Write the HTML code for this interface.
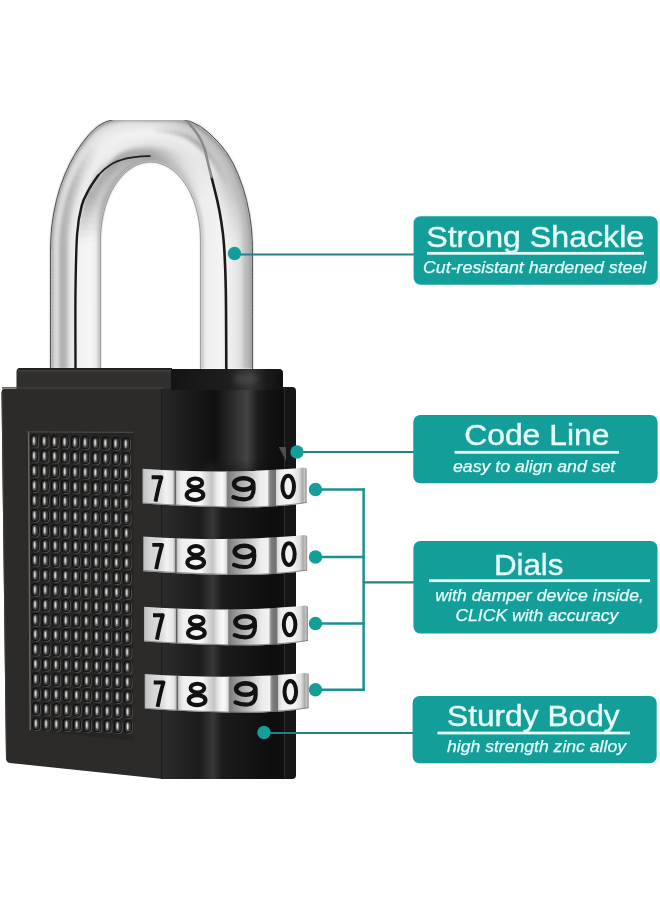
<!DOCTYPE html><html><head><meta charset="utf-8"><style>html,body{margin:0;padding:0;background:#fff;width:660px;height:900px;overflow:hidden}svg{display:block}</style></head><body>
<svg width="660" height="900" viewBox="0 0 660 900">
<defs>
<clipPath id="topclip"><rect x="0" y="120" width="660" height="780"/></clipPath>
<filter id="bl1" x="-20%" y="-20%" width="140%" height="140%"><feGaussianBlur stdDeviation="1"/></filter>
<filter id="bl2" x="-50%" y="-50%" width="200%" height="200%"><feGaussianBlur stdDeviation="2.5"/></filter>
<filter id="bl05"><feGaussianBlur stdDeviation="0.5"/></filter><filter id="bl08" x="-5%" y="-5%" width="110%" height="110%"><feGaussianBlur stdDeviation="0.9"/></filter>
<linearGradient id="cyl" gradientUnits="userSpaceOnUse" x1="161" x2="284" y1="0" y2="0"><stop offset="0.000" stop-color="#1a1a1a"/><stop offset="0.016" stop-color="#262626"/><stop offset="0.089" stop-color="#232323"/><stop offset="0.236" stop-color="#1a1a1a"/><stop offset="0.439" stop-color="#101010"/><stop offset="0.577" stop-color="#2a2a2a"/><stop offset="0.699" stop-color="#444446"/><stop offset="0.789" stop-color="#1c1c1c"/><stop offset="0.886" stop-color="#111"/><stop offset="1.000" stop-color="#0e0e0e"/></linearGradient>
<linearGradient id="cyl2" gradientUnits="userSpaceOnUse" x1="161" x2="284" y1="0" y2="0"><stop offset="0.000" stop-color="#1a1a1a"/><stop offset="0.016" stop-color="#2c2c2c"/><stop offset="0.187" stop-color="#212121"/><stop offset="0.317" stop-color="#1c1c1c"/><stop offset="0.423" stop-color="#383838"/><stop offset="0.496" stop-color="#1b1b1b"/><stop offset="0.724" stop-color="#141414"/><stop offset="0.886" stop-color="#0e0e0e"/><stop offset="1.000" stop-color="#101010"/></linearGradient>
<linearGradient id="capg" gradientUnits="userSpaceOnUse" x1="171" x2="284" y1="0" y2="0"><stop offset="0" stop-color="#141414"/><stop offset="0.5" stop-color="#1e1e1e"/><stop offset="0.7" stop-color="#363636"/><stop offset="0.85" stop-color="#1a1a1a"/><stop offset="1" stop-color="#101010"/></linearGradient>
<linearGradient id="s1" gradientUnits="userSpaceOnUse" x1="142" x2="175.5" y1="0" y2="0"><stop offset="0.000" stop-color="#9a9a9a"/><stop offset="0.060" stop-color="#c4c4c4"/><stop offset="0.239" stop-color="#d4d4d4"/><stop offset="0.537" stop-color="#dcdcdc"/><stop offset="0.716" stop-color="#f2f2f2"/><stop offset="0.896" stop-color="#e4e4e4"/><stop offset="0.970" stop-color="#b0b0b0"/><stop offset="1.000" stop-color="#555"/></linearGradient>
<linearGradient id="s2" gradientUnits="userSpaceOnUse" x1="175.5" x2="227" y1="0" y2="0"><stop offset="0.000" stop-color="#9a9a9a"/><stop offset="0.029" stop-color="#d0d0d0"/><stop offset="0.107" stop-color="#eeeeee"/><stop offset="0.476" stop-color="#f8f8f8"/><stop offset="0.612" stop-color="#d8d8d8"/><stop offset="0.709" stop-color="#c4c4c4"/><stop offset="0.806" stop-color="#ececec"/><stop offset="0.903" stop-color="#fafafa"/><stop offset="1.000" stop-color="#d4d4d4"/></linearGradient>
<linearGradient id="s3" gradientUnits="userSpaceOnUse" x1="227" x2="276.5" y1="0" y2="0"><stop offset="0.000" stop-color="#787878"/><stop offset="0.101" stop-color="#8e8e8e"/><stop offset="0.263" stop-color="#a8a8a8"/><stop offset="0.465" stop-color="#c8c8c8"/><stop offset="0.667" stop-color="#ececec"/><stop offset="0.818" stop-color="#f2f2f2"/><stop offset="0.848" stop-color="#9a9a9a"/><stop offset="0.889" stop-color="#7a7a7a"/><stop offset="1.000" stop-color="#6e6e6e"/></linearGradient>
<linearGradient id="s4" gradientUnits="userSpaceOnUse" x1="276.5" x2="307" y1="0" y2="0"><stop offset="0.000" stop-color="#d8d8d8"/><stop offset="0.115" stop-color="#eeeeee"/><stop offset="0.508" stop-color="#f4f4f4"/><stop offset="0.738" stop-color="#dedede"/><stop offset="0.852" stop-color="#aaaaaa"/><stop offset="0.918" stop-color="#c4c4c4"/><stop offset="1.000" stop-color="#808080"/></linearGradient>
<radialGradient id="bump" cx="0.4" cy="0.45" r="0.55" fx="0.38" fy="0.42"><stop offset="0" stop-color="#e8e8e8"/><stop offset="0.18" stop-color="#9a9a9a"/><stop offset="0.45" stop-color="#2a2a2a"/><stop offset="1" stop-color="#121212"/></radialGradient>
<linearGradient id="legL" gradientUnits="userSpaceOnUse" x1="50" x2="101" y1="0" y2="0"><stop offset="0" stop-color="#707070"/><stop offset="0.04" stop-color="#d8d8d8"/><stop offset="0.16" stop-color="#e4e4e4"/><stop offset="0.24" stop-color="#a8a8a8"/><stop offset="0.32" stop-color="#c8c8c8"/><stop offset="0.44" stop-color="#e8e8e8"/><stop offset="0.5" stop-color="#f0f0f0"/><stop offset="0.7" stop-color="#f6f6f6"/><stop offset="0.92" stop-color="#ebebeb"/><stop offset="1" stop-color="#9a9a9a"/></linearGradient>
<linearGradient id="legR" gradientUnits="userSpaceOnUse" x1="200" x2="253" y1="0" y2="0"><stop offset="0" stop-color="#a0a0a0"/><stop offset="0.05" stop-color="#e6e6e6"/><stop offset="0.45" stop-color="#f6f6f6"/><stop offset="0.55" stop-color="#f2f2f2"/><stop offset="0.75" stop-color="#f0f0f0"/><stop offset="0.88" stop-color="#c8c8c8"/><stop offset="0.97" stop-color="#b0b0b0"/><stop offset="1" stop-color="#777"/></linearGradient>
</defs>
<g clip-path="url(#topclip)">
<g filter="url(#bl08)"><path d="M50.5 369.0 50.5 246.3 53.4 245.8 53.4 369.0Z" fill="#969696"/><path d="M52.6 369.0 52.6 246.0 55.5 245.5 55.5 369.0Z" fill="#d1d1d1"/><path d="M54.7 369.0 54.7 245.6 57.6 245.1 57.5 369.0Z" fill="#d8d8d8"/><path d="M56.8 369.0 56.8 245.3 59.7 244.8 59.6 369.0Z" fill="#dadada"/><path d="M58.8 369.0 58.9 244.9 61.7 244.5 61.7 369.0Z" fill="#bababa"/><path d="M60.9 369.0 60.9 244.6 63.8 244.1 63.8 369.0Z" fill="#b1b1b1"/><path d="M63.0 369.0 63.0 244.2 65.9 243.8 65.9 369.0Z" fill="#b3b3b3"/><path d="M65.1 369.0 65.1 243.9 68.0 243.4 68.0 369.0Z" fill="#bbbbbb"/><path d="M67.2 369.0 67.2 243.6 70.1 243.1 70.0 369.0Z" fill="#d3d3d3"/><path d="M69.2 369.0 69.3 243.2 72.2 242.7 72.1 369.0Z" fill="#e4e4e4"/><path d="M71.3 369.0 71.4 242.9 74.2 242.4 74.2 369.0Z" fill="#e8e8e8"/><path d="M73.4 369.0 73.4 242.5 76.3 242.0 76.3 369.0Z" fill="#ececec"/><path d="M75.5 369.0 75.5 242.2 78.4 241.7 78.4 369.0Z" fill="#efefef"/><path d="M77.6 369.0 77.6 241.8 80.5 241.4 80.5 369.0Z" fill="#f2f2f2"/><path d="M79.7 369.0 79.7 241.5 82.6 241.0 82.5 369.0Z" fill="#f3f3f3"/><path d="M81.8 369.0 81.8 241.1 84.7 240.7 84.6 369.0Z" fill="#f3f3f3"/><path d="M83.8 369.0 83.9 240.8 86.7 240.3 86.7 369.0Z" fill="#f4f4f4"/><path d="M85.9 369.0 85.9 240.5 88.8 240.0 88.8 369.0Z" fill="#f5f5f5"/><path d="M88.0 369.0 88.0 240.1 90.9 239.6 90.9 369.0Z" fill="#f6f6f6"/><path d="M90.1 369.0 90.1 239.8 93.0 239.3 93.0 369.0Z" fill="#f5f5f5"/><path d="M92.2 369.0 92.2 239.4 95.1 238.9 95.0 369.0Z" fill="#f2f2f2"/><path d="M94.2 369.0 94.3 239.1 97.2 238.6 97.1 369.0Z" fill="#efefef"/><path d="M96.3 369.0 96.4 238.7 99.2 238.3 99.2 369.0Z" fill="#e3e3e3"/><path d="M98.4 369.0 98.4 238.4 100.5 238.0 100.5 369.0Z" fill="#b0b0b0"/><path d="M50.5 250.0 50.9 236.7 53.8 236.5 53.4 249.4Z" fill="#959595"/><path d="M52.6 249.6 53.0 236.5 55.9 236.3 55.5 249.0Z" fill="#d1d1d1"/><path d="M54.7 249.2 55.1 236.4 57.9 236.2 57.5 248.6Z" fill="#d8d8d8"/><path d="M56.8 248.8 57.1 236.2 60.0 236.0 59.6 248.2Z" fill="#dadada"/><path d="M58.8 248.3 59.2 236.1 62.1 235.9 61.7 247.8Z" fill="#bbbbbb"/><path d="M60.9 247.9 61.3 235.9 64.2 235.7 63.8 247.3Z" fill="#b2b2b2"/><path d="M63.0 247.5 63.4 235.8 66.2 235.5 65.9 246.9Z" fill="#b4b4b4"/><path d="M65.1 247.1 65.4 235.6 68.3 235.4 68.0 246.5Z" fill="#bcbcbc"/><path d="M67.2 246.7 67.5 235.4 70.4 235.2 70.0 246.1Z" fill="#d3d3d3"/><path d="M69.2 246.2 69.6 235.3 72.5 235.1 72.1 245.7Z" fill="#e3e3e3"/><path d="M71.3 245.8 71.7 235.1 74.5 234.9 74.2 245.3Z" fill="#e8e8e8"/><path d="M73.4 245.4 73.7 235.0 76.6 234.8 76.3 244.8Z" fill="#ebebeb"/><path d="M75.5 245.0 75.8 234.8 78.7 234.6 78.4 244.4Z" fill="#efefef"/><path d="M77.6 244.6 77.9 234.7 80.8 234.5 80.5 244.0Z" fill="#eeeeee"/><path d="M79.7 244.2 80.0 234.5 82.8 234.3 82.5 243.6Z" fill="#eeeeee"/><path d="M81.8 243.8 82.0 234.4 84.9 234.1 84.6 243.2Z" fill="#efefef"/><path d="M83.8 243.3 84.1 234.2 87.0 234.0 86.7 242.8Z" fill="#f0f0f0"/><path d="M85.9 242.9 86.2 234.0 89.1 233.8 88.8 242.3Z" fill="#f1f1f1"/><path d="M88.0 242.5 88.3 233.9 91.1 233.7 90.9 241.9Z" fill="#f2f2f2"/><path d="M90.1 242.1 90.3 233.7 93.2 233.5 93.0 241.5Z" fill="#f2f2f2"/><path d="M92.2 241.7 92.4 233.6 95.3 233.4 95.0 241.1Z" fill="#efefef"/><path d="M94.2 241.2 94.5 233.4 97.4 233.2 97.1 240.7Z" fill="#ebebeb"/><path d="M96.3 240.8 96.6 233.3 99.4 233.0 99.2 240.3Z" fill="#dfdfdf"/><path d="M98.4 240.4 98.6 233.1 100.7 232.9 100.5 240.0Z" fill="#afafaf"/><path d="M50.7 240.4 51.7 227.2 54.6 227.2 53.6 240.1Z" fill="#949494"/><path d="M52.8 240.2 53.8 227.2 56.6 227.2 55.7 239.8Z" fill="#d1d1d1"/><path d="M54.9 239.9 55.8 227.2 58.7 227.3 57.8 239.6Z" fill="#d8d8d8"/><path d="M57.0 239.7 57.9 227.2 60.7 227.3 59.8 239.4Z" fill="#dadada"/><path d="M59.0 239.5 60.0 227.3 62.8 227.3 61.9 239.2Z" fill="#bdbdbd"/><path d="M61.1 239.2 62.0 227.3 64.9 227.3 64.0 238.9Z" fill="#b3b3b3"/><path d="M63.2 239.0 64.1 227.3 66.9 227.4 66.1 238.7Z" fill="#b5b5b5"/><path d="M65.3 238.8 66.1 227.4 69.0 227.4 68.1 238.5Z" fill="#bebebe"/><path d="M67.3 238.6 68.2 227.4 71.0 227.4 70.2 238.2Z" fill="#d3d3d3"/><path d="M69.4 238.3 70.2 227.4 73.1 227.5 72.3 238.0Z" fill="#e3e3e3"/><path d="M71.5 238.1 72.3 227.5 75.1 227.5 74.4 237.8Z" fill="#e8e8e8"/><path d="M73.6 237.9 74.4 227.5 77.2 227.5 76.5 237.6Z" fill="#ebebeb"/><path d="M75.7 237.6 76.4 227.5 79.3 227.6 78.5 237.3Z" fill="#eeeeee"/><path d="M77.7 237.4 78.5 227.5 81.3 227.6 80.6 237.1Z" fill="#e7e7e7"/><path d="M79.8 237.2 80.5 227.6 83.4 227.6 82.7 236.9Z" fill="#e4e4e4"/><path d="M81.9 237.0 82.6 227.6 85.4 227.6 84.8 236.6Z" fill="#e5e5e5"/><path d="M84.0 236.7 84.6 227.6 87.5 227.7 86.9 236.4Z" fill="#e7e7e7"/><path d="M86.1 236.5 86.7 227.7 89.6 227.7 88.9 236.2Z" fill="#e8e8e8"/><path d="M88.1 236.3 88.8 227.7 91.6 227.7 91.0 236.0Z" fill="#eaeaea"/><path d="M90.2 236.0 90.8 227.7 93.7 227.8 93.1 235.7Z" fill="#ebebeb"/><path d="M92.3 235.8 92.9 227.8 95.7 227.8 95.2 235.5Z" fill="#eaeaea"/><path d="M94.4 235.6 94.9 227.8 97.8 227.8 97.2 235.3Z" fill="#e5e5e5"/><path d="M96.4 235.4 97.0 227.8 99.8 227.9 99.3 235.0Z" fill="#d9d9d9"/><path d="M98.5 235.1 99.0 227.8 101.1 227.9 100.6 234.9Z" fill="#aeaeae"/><path d="M51.4 230.8 53.0 217.7 55.8 218.0 54.2 230.8Z" fill="#939393"/><path d="M53.4 230.8 55.0 217.9 57.8 218.2 56.3 230.7Z" fill="#d2d2d2"/><path d="M55.5 230.7 57.0 218.1 59.8 218.4 58.4 230.7Z" fill="#d8d8d8"/><path d="M57.6 230.7 59.1 218.4 61.9 218.6 60.4 230.6Z" fill="#dbdbdb"/><path d="M59.6 230.6 61.1 218.6 63.9 218.9 62.5 230.6Z" fill="#bfbfbf"/><path d="M61.7 230.6 63.1 218.8 65.9 219.1 64.5 230.5Z" fill="#b3b3b3"/><path d="M63.8 230.6 65.2 219.0 68.0 219.3 66.6 230.5Z" fill="#b7b7b7"/><path d="M65.8 230.5 67.2 219.2 70.0 219.5 68.7 230.5Z" fill="#bfbfbf"/><path d="M67.9 230.5 69.2 219.4 72.0 219.7 70.7 230.4Z" fill="#d3d3d3"/><path d="M70.0 230.4 71.2 219.6 74.1 219.9 72.8 230.4Z" fill="#e2e2e2"/><path d="M72.0 230.4 73.3 219.9 76.1 220.2 74.9 230.3Z" fill="#e8e8e8"/><path d="M74.1 230.4 75.3 220.1 78.1 220.4 76.9 230.3Z" fill="#ebebeb"/><path d="M76.1 230.3 77.3 220.3 80.2 220.6 79.0 230.3Z" fill="#eeeeee"/><path d="M78.2 230.3 79.4 220.5 82.2 220.8 81.1 230.2Z" fill="#e0e0e0"/><path d="M80.3 230.2 81.4 220.7 84.2 221.0 83.1 230.2Z" fill="#dadada"/><path d="M82.3 230.2 83.4 220.9 86.3 221.2 85.2 230.1Z" fill="#dcdcdc"/><path d="M84.4 230.2 85.5 221.1 88.3 221.4 87.3 230.1Z" fill="#dddddd"/><path d="M86.5 230.1 87.5 221.4 90.3 221.7 89.3 230.1Z" fill="#e0e0e0"/><path d="M88.5 230.1 89.5 221.6 92.3 221.9 91.4 230.0Z" fill="#e3e3e3"/><path d="M90.6 230.0 91.6 221.8 94.4 222.1 93.5 230.0Z" fill="#e5e5e5"/><path d="M92.7 230.0 93.6 222.0 96.4 222.3 95.5 229.9Z" fill="#e5e5e5"/><path d="M94.7 229.9 95.6 222.2 98.4 222.5 97.6 229.9Z" fill="#dedede"/><path d="M96.8 229.9 97.7 222.4 100.5 222.7 99.7 229.8Z" fill="#d2d2d2"/><path d="M98.9 229.9 99.7 222.7 101.7 222.9 100.9 229.8Z" fill="#acacac"/><path d="M52.4 221.3 54.6 208.4 57.4 208.9 55.3 221.5Z" fill="#939393"/><path d="M54.5 221.5 56.6 208.8 59.4 209.3 57.3 221.7Z" fill="#d2d2d2"/><path d="M56.5 221.6 58.6 209.2 61.4 209.7 59.4 221.8Z" fill="#d8d8d8"/><path d="M58.6 221.8 60.6 209.6 63.4 210.1 61.4 222.0Z" fill="#dbdbdb"/><path d="M60.6 221.9 62.6 210.0 65.4 210.5 63.4 222.1Z" fill="#c1c1c1"/><path d="M62.7 222.0 64.6 210.4 67.4 210.9 65.5 222.2Z" fill="#b4b4b4"/><path d="M64.7 222.2 66.6 210.8 69.4 211.3 67.5 222.4Z" fill="#b9b9b9"/><path d="M66.7 222.3 68.6 211.2 71.4 211.7 69.6 222.5Z" fill="#c1c1c1"/><path d="M68.8 222.5 70.6 211.6 73.4 212.1 71.6 222.7Z" fill="#d3d3d3"/><path d="M70.8 222.6 72.6 212.0 75.4 212.5 73.7 222.8Z" fill="#e2e2e2"/><path d="M72.9 222.8 74.6 212.4 77.4 212.9 75.7 223.0Z" fill="#e8e8e8"/><path d="M74.9 222.9 76.6 212.8 79.4 213.3 77.7 223.1Z" fill="#ebebeb"/><path d="M77.0 223.1 78.6 213.2 81.3 213.7 79.8 223.3Z" fill="#ededed"/><path d="M79.0 223.2 80.6 213.6 83.3 214.1 81.8 223.4Z" fill="#d8d8d8"/><path d="M81.0 223.3 82.6 214.0 85.3 214.5 83.9 223.5Z" fill="#d0d0d0"/><path d="M83.1 223.5 84.6 214.4 87.3 214.9 85.9 223.7Z" fill="#d2d2d2"/><path d="M85.1 223.6 86.6 214.7 89.3 215.3 87.9 223.8Z" fill="#d4d4d4"/><path d="M87.2 223.8 88.6 215.1 91.3 215.7 90.0 224.0Z" fill="#d8d8d8"/><path d="M89.2 223.9 90.6 215.5 93.3 216.1 92.0 224.1Z" fill="#dbdbdb"/><path d="M91.2 224.1 92.6 215.9 95.3 216.5 94.1 224.3Z" fill="#dfdfdf"/><path d="M93.3 224.2 94.6 216.3 97.3 216.9 96.1 224.4Z" fill="#dfdfdf"/><path d="M95.3 224.4 96.6 216.7 99.3 217.3 98.2 224.5Z" fill="#d8d8d8"/><path d="M97.4 224.5 98.6 217.1 101.3 217.7 100.2 224.7Z" fill="#cbcbcb"/><path d="M99.4 224.6 100.5 217.5 102.5 217.9 101.5 224.8Z" fill="#ababab"/><path d="M53.9 212.0 56.7 199.3 59.4 200.1 56.7 212.4Z" fill="#929292"/><path d="M56.0 212.3 58.7 199.8 61.4 200.6 58.7 212.7Z" fill="#d2d2d2"/><path d="M58.0 212.6 60.6 200.4 63.3 201.2 60.7 213.1Z" fill="#d8d8d8"/><path d="M60.0 212.9 62.6 201.0 65.3 201.8 62.8 213.4Z" fill="#dcdcdc"/><path d="M62.0 213.3 64.5 201.6 67.2 202.4 64.8 213.7Z" fill="#c3c3c3"/><path d="M64.0 213.6 66.5 202.1 69.2 202.9 66.8 214.0Z" fill="#b5b5b5"/><path d="M66.0 213.9 68.4 202.7 71.1 203.5 68.8 214.4Z" fill="#bbbbbb"/><path d="M68.0 214.2 70.4 203.3 73.1 204.1 70.8 214.7Z" fill="#c2c2c2"/><path d="M70.0 214.6 72.3 203.9 75.0 204.7 72.8 215.0Z" fill="#d3d3d3"/><path d="M72.0 214.9 74.3 204.4 77.0 205.2 74.8 215.4Z" fill="#e2e2e2"/><path d="M74.1 215.2 76.2 205.0 78.9 205.8 76.8 215.7Z" fill="#e8e8e8"/><path d="M76.1 215.6 78.2 205.6 80.9 206.4 78.8 216.0Z" fill="#ebebeb"/><path d="M78.1 215.9 80.1 206.2 82.8 207.0 80.9 216.3Z" fill="#ededed"/><path d="M80.1 216.2 82.1 206.7 84.8 207.5 82.9 216.7Z" fill="#d1d1d1"/><path d="M82.1 216.5 84.0 207.3 86.7 208.1 84.9 217.0Z" fill="#c7c7c7"/><path d="M84.1 216.9 86.0 207.9 88.7 208.7 86.9 217.3Z" fill="#c9c9c9"/><path d="M86.1 217.2 88.0 208.5 90.7 209.3 88.9 217.6Z" fill="#cbcbcb"/><path d="M88.1 217.5 89.9 209.1 92.6 209.8 90.9 218.0Z" fill="#cfcfcf"/><path d="M90.1 217.8 91.9 209.6 94.6 210.4 92.9 218.3Z" fill="#d4d4d4"/><path d="M92.1 218.2 93.8 210.2 96.5 211.0 94.9 218.6Z" fill="#d8d8d8"/><path d="M94.2 218.5 95.8 210.8 98.5 211.6 96.9 219.0Z" fill="#dadada"/><path d="M96.2 218.8 97.7 211.4 100.4 212.1 99.0 219.3Z" fill="#d1d1d1"/><path d="M98.2 219.2 99.7 211.9 102.4 212.7 101.0 219.6Z" fill="#c5c5c5"/><path d="M100.2 219.5 101.6 212.5 103.6 213.1 102.2 219.8Z" fill="#aaaaaa"/><path d="M55.9 202.7 59.2 190.4 61.8 191.4 58.6 203.5Z" fill="#919191"/><path d="M57.8 203.3 61.1 191.1 63.7 192.1 60.6 204.0Z" fill="#d3d3d3"/><path d="M59.8 203.8 63.0 191.9 65.6 192.9 62.5 204.5Z" fill="#d8d8d8"/><path d="M61.8 204.3 64.9 192.6 67.5 193.6 64.5 205.0Z" fill="#dddddd"/><path d="M63.7 204.8 66.8 193.4 69.4 194.4 66.5 205.5Z" fill="#c5c5c5"/><path d="M65.7 205.3 68.7 194.1 71.3 195.1 68.4 206.0Z" fill="#b6b6b6"/><path d="M67.7 205.8 70.6 194.9 73.2 195.9 70.4 206.5Z" fill="#bcbcbc"/><path d="M69.7 206.3 72.5 195.6 75.1 196.6 72.4 207.0Z" fill="#c4c4c4"/><path d="M71.6 206.8 74.4 196.3 77.0 197.4 74.4 207.5Z" fill="#d3d3d3"/><path d="M73.6 207.3 76.3 197.1 78.9 198.1 76.3 208.0Z" fill="#e1e1e1"/><path d="M75.6 207.8 78.2 197.8 80.8 198.9 78.3 208.5Z" fill="#e8e8e8"/><path d="M77.5 208.3 80.1 198.6 82.7 199.6 80.3 209.0Z" fill="#ebebeb"/><path d="M79.5 208.8 82.0 199.3 84.6 200.4 82.2 209.5Z" fill="#ececec"/><path d="M81.5 209.3 83.9 200.1 86.5 201.1 84.2 210.0Z" fill="#cacaca"/><path d="M83.4 209.9 85.8 200.8 88.4 201.9 86.2 210.6Z" fill="#bdbdbd"/><path d="M85.4 210.4 87.7 201.6 90.3 202.6 88.1 211.1Z" fill="#c0c0c0"/><path d="M87.4 210.9 89.6 202.3 92.2 203.4 90.1 211.6Z" fill="#c2c2c2"/><path d="M89.4 211.4 91.5 203.1 94.1 204.1 92.1 212.1Z" fill="#c7c7c7"/><path d="M91.3 211.9 93.4 203.8 96.0 204.9 94.1 212.6Z" fill="#cccccc"/><path d="M93.3 212.4 95.3 204.6 97.9 205.6 96.0 213.1Z" fill="#d2d2d2"/><path d="M95.3 212.9 97.2 205.3 99.8 206.4 98.0 213.6Z" fill="#d5d5d5"/><path d="M97.2 213.4 99.1 206.1 101.7 207.1 100.0 214.1Z" fill="#cacaca"/><path d="M99.2 213.9 101.0 206.8 103.6 207.9 101.9 214.6Z" fill="#bebebe"/><path d="M101.2 214.4 102.9 207.6 104.8 208.3 103.2 214.9Z" fill="#a8a8a8"/><path d="M58.2 193.7 62.1 181.7 64.6 183.0 60.8 194.7Z" fill="#909090"/><path d="M60.1 194.4 63.9 182.6 66.5 183.9 62.8 195.4Z" fill="#d3d3d3"/><path d="M62.0 195.1 65.7 183.5 68.3 184.8 64.7 196.1Z" fill="#d8d8d8"/><path d="M64.0 195.8 67.6 184.4 70.1 185.7 66.6 196.7Z" fill="#dddddd"/><path d="M65.9 196.5 69.4 185.4 72.0 186.6 68.5 197.4Z" fill="#c7c7c7"/><path d="M67.8 197.2 71.3 186.3 73.8 187.6 70.5 198.1Z" fill="#b7b7b7"/><path d="M69.7 197.8 73.1 187.2 75.7 188.5 72.4 198.8Z" fill="#bebebe"/><path d="M71.6 198.5 74.9 188.1 77.5 189.4 74.3 199.5Z" fill="#c6c6c6"/><path d="M73.6 199.2 76.8 189.0 79.3 190.3 76.2 200.2Z" fill="#d3d3d3"/><path d="M75.5 199.9 78.6 190.0 81.2 191.2 78.1 200.8Z" fill="#e1e1e1"/><path d="M77.4 200.6 80.5 190.9 83.0 192.2 80.1 201.5Z" fill="#e9e9e9"/><path d="M79.3 201.3 82.3 191.8 84.9 193.1 82.0 202.2Z" fill="#eaeaea"/><path d="M81.2 201.9 84.1 192.7 86.7 194.0 83.9 202.9Z" fill="#ebebeb"/><path d="M83.2 202.6 86.0 193.6 88.5 194.9 85.8 203.6Z" fill="#c2c2c2"/><path d="M85.1 203.3 87.8 194.6 90.4 195.8 87.7 204.3Z" fill="#b3b3b3"/><path d="M87.0 204.0 89.7 195.5 92.2 196.8 89.7 204.9Z" fill="#b6b6b6"/><path d="M88.9 204.7 91.5 196.4 94.1 197.7 91.6 205.6Z" fill="#b9b9b9"/><path d="M90.9 205.4 93.3 197.3 95.9 198.6 93.5 206.3Z" fill="#bfbfbf"/><path d="M92.8 206.0 95.2 198.2 97.7 199.5 95.4 207.0Z" fill="#c5c5c5"/><path d="M94.7 206.7 97.0 199.2 99.6 200.4 97.4 207.7Z" fill="#cbcbcb"/><path d="M96.6 207.4 98.9 200.1 101.4 201.3 99.3 208.4Z" fill="#cfcfcf"/><path d="M98.5 208.1 100.7 201.0 103.3 202.3 101.2 209.0Z" fill="#c4c4c4"/><path d="M100.5 208.8 102.5 201.9 105.1 203.2 103.1 209.7Z" fill="#b7b7b7"/><path d="M102.4 209.5 104.4 202.8 106.2 203.8 104.3 210.2Z" fill="#a7a7a7"/><path d="M60.9 185.0 65.3 173.3 67.8 174.8 63.5 186.2Z" fill="#8f8f8f"/><path d="M62.8 185.8 67.1 174.4 69.6 175.9 65.4 187.0Z" fill="#d4d4d4"/><path d="M64.6 186.7 68.9 175.5 71.3 177.0 67.2 187.9Z" fill="#d9d9d9"/><path d="M66.5 187.5 70.6 176.6 73.1 178.1 69.1 188.7Z" fill="#dedede"/><path d="M68.4 188.4 72.4 177.7 74.9 179.2 71.0 189.6Z" fill="#cacaca"/><path d="M70.2 189.3 74.2 178.7 76.6 180.2 72.8 190.4Z" fill="#bababa"/><path d="M72.1 190.1 76.0 179.8 78.4 181.3 74.7 191.3Z" fill="#c1c1c1"/><path d="M74.0 191.0 77.7 180.9 80.2 182.4 76.5 192.2Z" fill="#c8c8c8"/><path d="M75.8 191.8 79.5 182.0 82.0 183.5 78.4 193.0Z" fill="#d4d4d4"/><path d="M77.7 192.7 81.3 183.1 83.7 184.6 80.3 193.9Z" fill="#e1e1e1"/><path d="M79.6 193.5 83.0 184.2 85.5 185.7 82.1 194.7Z" fill="#e9e9e9"/><path d="M81.4 194.4 84.8 185.2 87.3 186.7 84.0 195.6Z" fill="#ebebeb"/><path d="M83.3 195.2 86.6 186.3 89.0 187.8 85.9 196.4Z" fill="#ebebeb"/><path d="M85.2 196.1 88.4 187.4 90.8 188.9 87.7 197.3Z" fill="#bfbfbf"/><path d="M87.0 197.0 90.1 188.5 92.6 190.0 89.6 198.1Z" fill="#afafaf"/><path d="M88.9 197.8 91.9 189.6 94.4 191.1 91.5 199.0Z" fill="#b1b1b1"/><path d="M90.7 198.7 93.7 190.7 96.1 192.1 93.3 199.8Z" fill="#b3b3b3"/><path d="M92.6 199.5 95.4 191.7 97.9 193.2 95.2 200.7Z" fill="#b8b8b8"/><path d="M94.5 200.4 97.2 192.8 99.7 194.3 97.1 201.6Z" fill="#bfbfbf"/><path d="M96.3 201.2 99.0 193.9 101.4 195.4 98.9 202.4Z" fill="#c6c6c6"/><path d="M98.2 202.1 100.8 195.0 103.2 196.5 100.8 203.3Z" fill="#cbcbcb"/><path d="M100.1 202.9 102.5 196.1 105.0 197.6 102.6 204.1Z" fill="#bfbfbf"/><path d="M101.9 203.8 104.3 197.1 106.7 198.6 104.5 205.0Z" fill="#b3b3b3"/><path d="M103.8 204.6 106.1 198.2 107.8 199.3 105.7 205.5Z" fill="#a6a6a6"/><path d="M64.0 176.5 69.0 165.3 71.3 167.0 66.5 177.9Z" fill="#8e8e8e"/><path d="M65.8 177.5 70.7 166.5 73.0 168.2 68.3 178.9Z" fill="#d4d4d4"/><path d="M67.6 178.5 72.3 167.8 74.7 169.5 70.1 180.0Z" fill="#d9d9d9"/><path d="M69.4 179.6 74.0 169.0 76.4 170.7 71.9 181.0Z" fill="#dedede"/><path d="M71.2 180.6 75.7 170.2 78.1 172.0 73.7 182.0Z" fill="#cecece"/><path d="M73.0 181.6 77.4 171.5 79.8 173.2 75.5 183.0Z" fill="#c1c1c1"/><path d="M74.8 182.6 79.1 172.7 81.5 174.4 77.3 184.0Z" fill="#c7c7c7"/><path d="M76.6 183.6 80.8 174.0 83.2 175.7 79.1 185.1Z" fill="#cdcdcd"/><path d="M78.4 184.7 82.5 175.2 84.9 176.9 80.9 186.1Z" fill="#d8d8d8"/><path d="M80.2 185.7 84.2 176.4 86.6 178.2 82.7 187.1Z" fill="#e3e3e3"/><path d="M82.0 186.7 85.9 177.7 88.3 179.4 84.5 188.1Z" fill="#eaeaea"/><path d="M83.8 187.7 87.6 178.9 89.9 180.6 86.3 189.1Z" fill="#ebebeb"/><path d="M85.6 188.8 89.3 180.2 91.6 181.9 88.1 190.2Z" fill="#ececec"/><path d="M87.4 189.8 91.0 181.4 93.3 183.1 89.9 191.2Z" fill="#c6c6c6"/><path d="M89.2 190.8 92.7 182.6 95.0 184.4 91.7 192.2Z" fill="#b7b7b7"/><path d="M91.0 191.8 94.4 183.9 96.7 185.6 93.5 193.2Z" fill="#b4b4b4"/><path d="M92.8 192.8 96.1 185.1 98.4 186.8 95.3 194.2Z" fill="#b1b1b1"/><path d="M94.6 193.9 97.8 186.4 100.1 188.1 97.1 195.3Z" fill="#b5b5b5"/><path d="M96.4 194.9 99.5 187.6 101.8 189.3 98.9 196.3Z" fill="#bcbcbc"/><path d="M98.2 195.9 101.2 188.8 103.5 190.6 100.7 197.3Z" fill="#c2c2c2"/><path d="M100.0 196.9 102.9 190.1 105.2 191.8 102.5 198.3Z" fill="#c8c8c8"/><path d="M101.8 197.9 104.6 191.3 106.9 193.0 104.3 199.4Z" fill="#bfbfbf"/><path d="M103.6 199.0 106.2 192.6 108.6 194.3 106.1 200.4Z" fill="#b3b3b3"/><path d="M105.4 200.0 107.9 193.8 109.6 195.0 107.2 201.0Z" fill="#a6a6a6"/><path d="M67.5 168.3 72.9 157.6 75.2 159.5 69.9 170.0Z" fill="#8e8e8e"/><path d="M69.2 169.5 74.6 159.0 76.8 160.9 71.6 171.1Z" fill="#d5d5d5"/><path d="M71.0 170.7 76.2 160.4 78.4 162.3 73.4 172.3Z" fill="#dadada"/><path d="M72.7 171.9 77.8 161.8 80.0 163.7 75.1 173.5Z" fill="#dfdfdf"/><path d="M74.4 173.1 79.4 163.2 81.6 165.1 76.8 174.7Z" fill="#d2d2d2"/><path d="M76.1 174.2 81.0 164.6 83.2 166.5 78.5 175.9Z" fill="#c7c7c7"/><path d="M77.9 175.4 82.6 166.0 84.8 167.9 80.3 177.0Z" fill="#cdcdcd"/><path d="M79.6 176.6 84.2 167.3 86.4 169.3 82.0 178.2Z" fill="#d3d3d3"/><path d="M81.3 177.8 85.8 168.7 88.1 170.7 83.7 179.4Z" fill="#dcdcdc"/><path d="M83.0 179.0 87.4 170.1 89.7 172.0 85.4 180.6Z" fill="#e5e5e5"/><path d="M84.8 180.1 89.1 171.5 91.3 173.4 87.2 181.8Z" fill="#ebebeb"/><path d="M86.5 181.3 90.7 172.9 92.9 174.8 88.9 183.0Z" fill="#ececec"/><path d="M88.2 182.5 92.3 174.3 94.5 176.2 90.6 184.1Z" fill="#ececec"/><path d="M89.9 183.7 93.9 175.7 96.1 177.6 92.3 185.3Z" fill="#cccccc"/><path d="M91.7 184.9 95.5 177.1 97.7 179.0 94.1 186.5Z" fill="#bfbfbf"/><path d="M93.4 186.0 97.1 178.5 99.3 180.4 95.8 187.7Z" fill="#b8b8b8"/><path d="M95.1 187.2 98.7 179.9 101.0 181.8 97.5 188.9Z" fill="#b0b0b0"/><path d="M96.9 188.4 100.3 181.2 102.6 183.2 99.2 190.0Z" fill="#b2b2b2"/><path d="M98.6 189.6 101.9 182.6 104.2 184.6 101.0 191.2Z" fill="#b8b8b8"/><path d="M100.3 190.8 103.6 184.0 105.8 185.9 102.7 192.4Z" fill="#bfbfbf"/><path d="M102.0 191.9 105.2 185.4 107.4 187.3 104.4 193.6Z" fill="#c5c5c5"/><path d="M103.8 193.1 106.8 186.8 109.0 188.7 106.1 194.8Z" fill="#bfbfbf"/><path d="M105.5 194.3 108.4 188.2 110.6 190.1 107.9 195.9Z" fill="#b3b3b3"/><path d="M107.2 195.5 110.0 189.6 111.6 191.0 108.9 196.7Z" fill="#a6a6a6"/><path d="M71.4 160.5 77.3 150.3 79.4 152.5 73.6 162.4Z" fill="#8e8e8e"/><path d="M73.0 161.8 78.8 151.9 80.9 154.0 75.3 163.7Z" fill="#d5d5d5"/><path d="M74.7 163.2 80.3 153.4 82.4 155.5 76.9 165.0Z" fill="#dadada"/><path d="M76.3 164.5 81.8 154.9 83.9 157.0 78.6 166.4Z" fill="#dfdfdf"/><path d="M77.9 165.8 83.3 156.5 85.4 158.6 80.2 167.7Z" fill="#d6d6d6"/><path d="M79.6 167.2 84.9 158.0 87.0 160.1 81.9 169.0Z" fill="#cecece"/><path d="M81.2 168.5 86.4 159.5 88.5 161.6 83.5 170.4Z" fill="#d3d3d3"/><path d="M82.9 169.8 87.9 161.1 90.0 163.2 85.2 171.7Z" fill="#d8d8d8"/><path d="M84.5 171.2 89.4 162.6 91.5 164.7 86.8 173.0Z" fill="#dfdfdf"/><path d="M86.2 172.5 90.9 164.1 93.0 166.2 88.4 174.4Z" fill="#e7e7e7"/><path d="M87.8 173.8 92.5 165.7 94.6 167.8 90.1 175.7Z" fill="#ececec"/><path d="M89.5 175.2 94.0 167.2 96.1 169.3 91.7 177.0Z" fill="#ececec"/><path d="M91.1 176.5 95.5 168.7 97.6 170.8 93.4 178.4Z" fill="#ececec"/><path d="M92.7 177.8 97.0 170.3 99.1 172.4 95.0 179.7Z" fill="#d3d3d3"/><path d="M94.4 179.2 98.5 171.8 100.6 173.9 96.7 181.0Z" fill="#c8c8c8"/><path d="M96.0 180.5 100.1 173.3 102.2 175.4 98.3 182.4Z" fill="#bbbbbb"/><path d="M97.7 181.8 101.6 174.9 103.7 177.0 100.0 183.7Z" fill="#afafaf"/><path d="M99.3 183.2 103.1 176.4 105.2 178.5 101.6 185.0Z" fill="#afafaf"/><path d="M101.0 184.5 104.6 177.9 106.7 180.0 103.2 186.4Z" fill="#b5b5b5"/><path d="M102.6 185.8 106.1 179.5 108.3 181.6 104.9 187.7Z" fill="#bcbcbc"/><path d="M104.3 187.2 107.7 181.0 109.8 183.1 106.5 189.0Z" fill="#c2c2c2"/><path d="M105.9 188.5 109.2 182.5 111.3 184.6 108.2 190.4Z" fill="#bebebe"/><path d="M107.5 189.8 110.7 184.0 112.8 186.2 109.8 191.7Z" fill="#b3b3b3"/><path d="M109.2 191.2 112.2 185.6 113.7 187.1 110.8 192.5Z" fill="#a6a6a6"/><path d="M75.6 153.1 81.9 143.5 83.9 145.8 77.7 155.1Z" fill="#8d8d8d"/><path d="M77.1 154.6 83.3 145.1 85.3 147.4 79.3 156.6Z" fill="#d6d6d6"/><path d="M78.7 156.0 84.7 146.8 86.7 149.1 80.8 158.1Z" fill="#dbdbdb"/><path d="M80.2 157.5 86.2 148.5 88.1 150.8 82.4 159.6Z" fill="#e0e0e0"/><path d="M81.8 159.0 87.6 150.1 89.6 152.4 83.9 161.0Z" fill="#dadada"/><path d="M83.3 160.5 89.0 151.8 91.0 154.1 85.5 162.5Z" fill="#d5d5d5"/><path d="M84.9 161.9 90.4 153.5 92.4 155.8 87.1 164.0Z" fill="#d9d9d9"/><path d="M86.5 163.4 91.9 155.1 93.8 157.4 88.6 165.5Z" fill="#dddddd"/><path d="M88.0 164.9 93.3 156.8 95.3 159.1 90.2 167.0Z" fill="#e3e3e3"/><path d="M89.6 166.4 94.7 158.5 96.7 160.8 91.7 168.4Z" fill="#eaeaea"/><path d="M91.1 167.9 96.1 160.1 98.1 162.4 93.3 169.9Z" fill="#ededed"/><path d="M92.7 169.3 97.5 161.8 99.5 164.1 94.8 171.4Z" fill="#ededed"/><path d="M94.2 170.8 99.0 163.5 100.9 165.8 96.4 172.9Z" fill="#ededed"/><path d="M95.8 172.3 100.4 165.1 102.4 167.4 97.9 174.3Z" fill="#dadada"/><path d="M97.3 173.8 101.8 166.8 103.8 169.1 99.5 175.8Z" fill="#d0d0d0"/><path d="M98.9 175.3 103.2 168.5 105.2 170.8 101.1 177.3Z" fill="#bfbfbf"/><path d="M100.5 176.7 104.7 170.1 106.6 172.5 102.6 178.8Z" fill="#adadad"/><path d="M102.0 178.2 106.1 171.8 108.1 174.1 104.2 180.3Z" fill="#acacac"/><path d="M103.6 179.7 107.5 173.5 109.5 175.8 105.7 181.7Z" fill="#b2b2b2"/><path d="M105.1 181.2 108.9 175.1 110.9 177.5 107.3 183.2Z" fill="#b8b8b8"/><path d="M106.7 182.7 110.4 176.8 112.3 179.1 108.8 184.7Z" fill="#bfbfbf"/><path d="M108.2 184.1 111.8 178.5 113.7 180.8 110.4 186.2Z" fill="#bebebe"/><path d="M109.8 185.6 113.2 180.1 115.2 182.5 111.9 187.7Z" fill="#b3b3b3"/><path d="M111.4 187.1 114.6 181.8 116.0 183.5 112.9 188.6Z" fill="#a6a6a6"/><path d="M80.1 146.1 86.8 137.1 88.7 139.6 82.1 148.3Z" fill="#8d8d8d"/><path d="M81.5 147.7 88.2 138.9 90.0 141.4 83.6 149.9Z" fill="#d6d6d6"/><path d="M83.0 149.3 89.5 140.7 91.3 143.1 85.0 151.5Z" fill="#dbdbdb"/><path d="M84.5 150.9 90.8 142.5 92.6 144.9 86.5 153.1Z" fill="#e0e0e0"/><path d="M85.9 152.5 92.1 144.2 93.9 146.7 87.9 154.8Z" fill="#dfdfdf"/><path d="M87.4 154.1 93.4 146.0 95.3 148.5 89.4 156.4Z" fill="#dcdcdc"/><path d="M88.8 155.8 94.7 147.8 96.6 150.3 90.9 158.0Z" fill="#dfdfdf"/><path d="M90.3 157.4 96.1 149.6 97.9 152.1 92.3 159.6Z" fill="#e3e3e3"/><path d="M91.8 159.0 97.4 151.4 99.2 153.9 93.8 161.2Z" fill="#e7e7e7"/><path d="M93.2 160.6 98.7 153.2 100.5 155.7 95.3 162.8Z" fill="#ececec"/><path d="M94.7 162.2 100.0 155.0 101.8 157.5 96.7 164.5Z" fill="#eeeeee"/><path d="M96.2 163.8 101.3 156.8 103.2 159.3 98.2 166.1Z" fill="#ededed"/><path d="M97.6 165.5 102.7 158.6 104.5 161.1 99.6 167.7Z" fill="#ededed"/><path d="M99.1 167.1 104.0 160.4 105.8 162.9 101.1 169.3Z" fill="#e0e0e0"/><path d="M100.5 168.7 105.3 162.2 107.1 164.6 102.6 170.9Z" fill="#d9d9d9"/><path d="M102.0 170.3 106.6 164.0 108.4 166.4 104.0 172.5Z" fill="#c2c2c2"/><path d="M103.5 171.9 107.9 165.7 109.8 168.2 105.5 174.2Z" fill="#acacac"/><path d="M104.9 173.5 109.3 167.5 111.1 170.0 106.9 175.8Z" fill="#a9a9a9"/><path d="M106.4 175.1 110.6 169.3 112.4 171.8 108.4 177.4Z" fill="#afafaf"/><path d="M107.8 176.8 111.9 171.1 113.7 173.6 109.9 179.0Z" fill="#b5b5b5"/><path d="M109.3 178.4 113.2 172.9 115.0 175.4 111.3 180.6Z" fill="#bcbcbc"/><path d="M110.8 180.0 114.5 174.7 116.4 177.2 112.8 182.2Z" fill="#bebebe"/><path d="M112.2 181.6 115.9 176.5 117.7 179.0 114.2 183.9Z" fill="#b3b3b3"/><path d="M113.7 183.2 117.2 178.3 118.5 180.1 115.1 184.8Z" fill="#a6a6a6"/><path d="M84.9 139.5 92.0 131.2 93.7 133.8 86.8 141.9Z" fill="#8c8c8c"/><path d="M86.3 141.2 93.3 133.1 94.9 135.7 88.1 143.6Z" fill="#d7d7d7"/><path d="M87.6 143.0 94.5 135.0 96.1 137.6 89.5 145.4Z" fill="#dcdcdc"/><path d="M89.0 144.7 95.7 136.9 97.3 139.5 90.9 147.1Z" fill="#e1e1e1"/><path d="M90.3 146.5 96.9 138.8 98.6 141.5 92.2 148.9Z" fill="#e3e3e3"/><path d="M91.7 148.2 98.1 140.7 99.8 143.4 93.6 150.6Z" fill="#e3e3e3"/><path d="M93.1 149.9 99.3 142.6 101.0 145.3 94.9 152.4Z" fill="#e5e5e5"/><path d="M94.4 151.7 100.5 144.5 102.2 147.2 96.3 154.1Z" fill="#e8e8e8"/><path d="M95.8 153.4 101.7 146.4 103.4 149.1 97.7 155.9Z" fill="#ebebeb"/><path d="M97.1 155.2 102.9 148.3 104.6 151.0 99.0 157.6Z" fill="#eeeeee"/><path d="M98.5 156.9 104.1 150.3 105.8 152.9 100.4 159.3Z" fill="#eeeeee"/><path d="M99.9 158.7 105.3 152.2 107.0 154.8 101.7 161.1Z" fill="#eeeeee"/><path d="M101.2 160.4 106.6 154.1 108.2 156.7 103.1 162.8Z" fill="#ededed"/><path d="M102.6 162.2 107.8 156.0 109.4 158.6 104.5 164.6Z" fill="#e7e7e7"/><path d="M103.9 163.9 109.0 157.9 110.7 160.5 105.8 166.3Z" fill="#e1e1e1"/><path d="M105.3 165.7 110.2 159.8 111.9 162.4 107.2 168.1Z" fill="#c6c6c6"/><path d="M106.7 167.4 111.4 161.7 113.1 164.3 108.5 169.8Z" fill="#ababab"/><path d="M108.0 169.1 112.6 163.6 114.3 166.2 109.9 171.6Z" fill="#a6a6a6"/><path d="M109.4 170.9 113.8 165.5 115.5 168.1 111.3 173.3Z" fill="#ababab"/><path d="M110.7 172.6 115.0 167.4 116.7 170.1 112.6 175.0Z" fill="#b1b1b1"/><path d="M112.1 174.4 116.2 169.3 117.9 172.0 114.0 176.8Z" fill="#b8b8b8"/><path d="M113.5 176.1 117.4 171.2 119.1 173.9 115.3 178.5Z" fill="#bdbdbd"/><path d="M114.8 177.9 118.7 173.1 120.3 175.8 116.7 180.3Z" fill="#b3b3b3"/><path d="M116.2 179.6 119.9 175.0 121.1 176.9 117.5 181.4Z" fill="#a6a6a6"/><path d="M90.0 133.4 97.5 126.4 99.0 129.2 91.7 136.0Z" fill="#8c8c8c"/><path d="M91.3 135.2 98.6 128.4 100.1 131.2 93.0 137.8Z" fill="#d7d7d7"/><path d="M92.5 137.1 99.7 130.4 101.2 133.2 94.3 139.7Z" fill="#dcdcdc"/><path d="M93.8 139.0 100.8 132.4 102.3 135.1 95.5 141.5Z" fill="#e1e1e1"/><path d="M95.0 140.8 101.9 134.4 103.4 137.1 96.8 143.4Z" fill="#e6e6e6"/><path d="M96.3 142.7 103.0 136.4 104.5 139.1 98.0 145.3Z" fill="#e9e9e9"/><path d="M97.5 144.6 104.1 138.3 105.6 141.1 99.3 147.1Z" fill="#ebebeb"/><path d="M98.8 146.4 105.2 140.3 106.7 143.1 100.5 149.0Z" fill="#ededed"/><path d="M100.0 148.3 106.3 142.3 107.8 145.1 101.8 150.9Z" fill="#eeeeee"/><path d="M101.3 150.2 107.4 144.3 108.9 147.0 103.0 152.7Z" fill="#f0f0f0"/><path d="M102.5 152.0 108.5 146.3 110.0 149.0 104.3 154.6Z" fill="#efefef"/><path d="M103.8 153.9 109.6 148.3 111.1 151.0 105.5 156.5Z" fill="#eeeeee"/><path d="M105.0 155.7 110.6 150.3 112.2 153.0 106.8 158.3Z" fill="#eeeeee"/><path d="M106.3 157.6 111.7 152.2 113.3 155.0 108.0 160.2Z" fill="#ededed"/><path d="M107.5 159.5 112.8 154.2 114.3 157.0 109.3 162.1Z" fill="#e9e9e9"/><path d="M108.8 161.3 113.9 156.2 115.4 159.0 110.5 163.9Z" fill="#c9c9c9"/><path d="M110.0 163.2 115.0 158.2 116.5 160.9 111.8 165.8Z" fill="#aaaaaa"/><path d="M111.3 165.1 116.1 160.2 117.6 162.9 113.0 167.6Z" fill="#a4a4a4"/><path d="M112.6 166.9 117.2 162.2 118.7 164.9 114.3 169.5Z" fill="#a9a9a9"/><path d="M113.8 168.8 118.3 164.2 119.8 166.9 115.5 171.4Z" fill="#aeaeae"/><path d="M115.1 170.7 119.4 166.1 120.9 168.9 116.8 173.2Z" fill="#b6b6b6"/><path d="M116.3 172.5 120.5 168.1 122.0 170.9 118.0 175.1Z" fill="#bdbdbd"/><path d="M117.6 174.4 121.6 170.1 123.1 172.9 119.3 177.0Z" fill="#b3b3b3"/><path d="M118.8 176.3 122.7 172.1 123.8 174.1 120.1 178.1Z" fill="#a6a6a6"/><path d="M95.4 128.1 103.2 123.0 104.6 125.8 97.0 130.8Z" fill="#8d8d8d"/><path d="M96.5 130.1 104.2 125.0 105.5 127.8 98.1 132.8Z" fill="#d4d4d4"/><path d="M97.7 132.0 105.2 127.0 106.5 129.8 99.2 134.7Z" fill="#dddddd"/><path d="M98.8 134.0 106.1 129.1 107.5 131.8 100.4 136.7Z" fill="#e2e2e2"/><path d="M99.9 135.9 107.1 131.1 108.5 133.9 101.5 138.7Z" fill="#e7e7e7"/><path d="M101.1 137.9 108.1 133.1 109.4 135.9 102.7 140.6Z" fill="#e9e9e9"/><path d="M102.2 139.9 109.1 135.1 110.4 137.9 103.8 142.6Z" fill="#ebebeb"/><path d="M103.4 141.8 110.0 137.1 111.4 139.9 104.9 144.5Z" fill="#ededed"/><path d="M104.5 143.8 111.0 139.2 112.4 142.0 106.1 146.5Z" fill="#efefef"/><path d="M105.6 145.7 112.0 141.2 113.3 144.0 107.2 148.5Z" fill="#f0f0f0"/><path d="M106.8 147.7 113.0 143.2 114.3 146.0 108.4 150.4Z" fill="#efefef"/><path d="M107.9 149.7 113.9 145.2 115.3 148.0 109.5 152.4Z" fill="#eeeeee"/><path d="M109.1 151.6 114.9 147.2 116.3 150.0 110.6 154.3Z" fill="#ededed"/><path d="M110.2 153.6 115.9 149.3 117.2 152.1 111.8 156.3Z" fill="#ececec"/><path d="M111.3 155.5 116.9 151.3 118.2 154.1 112.9 158.3Z" fill="#e8e8e8"/><path d="M112.5 157.5 117.8 153.3 119.2 156.1 114.0 160.2Z" fill="#cacaca"/><path d="M113.6 159.5 118.8 155.3 120.2 158.1 115.2 162.2Z" fill="#adadad"/><path d="M114.7 161.4 119.8 157.3 121.1 160.1 116.3 164.1Z" fill="#a6a6a6"/><path d="M115.9 163.4 120.8 159.4 122.1 162.2 117.5 166.1Z" fill="#a9a9a9"/><path d="M117.0 165.3 121.7 161.4 123.1 164.2 118.6 168.1Z" fill="#aeaeae"/><path d="M118.2 167.3 122.7 163.4 124.0 166.2 119.7 170.0Z" fill="#b4b4b4"/><path d="M119.3 169.3 123.7 165.4 125.0 168.2 120.9 172.0Z" fill="#bababa"/><path d="M120.4 171.2 124.6 167.4 126.0 170.2 122.0 173.9Z" fill="#b1b1b1"/><path d="M121.6 173.2 125.6 169.5 126.6 171.5 122.7 175.1Z" fill="#a6a6a6"/><path d="M101.0 124.2 109.1 120.7 110.3 123.5 102.4 127.0Z" fill="#8e8e8e"/><path d="M102.0 126.2 110.0 122.7 111.1 125.5 103.4 129.0Z" fill="#d2d2d2"/><path d="M103.0 128.2 110.8 124.7 112.0 127.5 104.5 131.0Z" fill="#dddddd"/><path d="M104.1 130.2 111.7 126.7 112.8 129.5 105.5 133.0Z" fill="#e2e2e2"/><path d="M105.1 132.2 112.5 128.8 113.7 131.6 106.5 135.0Z" fill="#e7e7e7"/><path d="M106.1 134.2 113.4 130.8 114.5 133.6 107.5 137.0Z" fill="#eaeaea"/><path d="M107.1 136.2 114.2 132.8 115.4 135.6 108.5 139.0Z" fill="#ececec"/><path d="M108.1 138.2 115.1 134.8 116.2 137.6 109.6 141.0Z" fill="#eeeeee"/><path d="M109.2 140.3 115.9 136.8 117.1 139.6 110.6 143.0Z" fill="#efefef"/><path d="M110.2 142.3 116.8 138.9 117.9 141.7 111.6 145.1Z" fill="#f0f0f0"/><path d="M111.2 144.3 117.6 140.9 118.8 143.7 112.6 147.1Z" fill="#efefef"/><path d="M112.2 146.3 118.5 142.9 119.6 145.7 113.6 149.1Z" fill="#ededed"/><path d="M113.2 148.3 119.3 144.9 120.5 147.7 114.7 151.1Z" fill="#ececec"/><path d="M114.3 150.3 120.2 147.0 121.3 149.8 115.7 153.1Z" fill="#ebebeb"/><path d="M115.3 152.3 121.0 149.0 122.2 151.8 116.7 155.1Z" fill="#e7e7e7"/><path d="M116.3 154.3 121.9 151.0 123.0 153.8 117.7 157.1Z" fill="#cbcbcb"/><path d="M117.3 156.4 122.7 153.0 123.9 155.8 118.7 159.1Z" fill="#afafaf"/><path d="M118.4 158.4 123.6 155.0 124.7 157.8 119.8 161.2Z" fill="#a8a8a8"/><path d="M119.4 160.4 124.4 157.1 125.6 159.9 120.8 163.2Z" fill="#a9a9a9"/><path d="M120.4 162.4 125.3 159.1 126.4 161.9 121.8 165.2Z" fill="#adadad"/><path d="M121.4 164.4 126.1 161.1 127.3 163.9 122.8 167.2Z" fill="#b2b2b2"/><path d="M122.4 166.4 127.0 163.1 128.1 165.9 123.9 169.2Z" fill="#b7b7b7"/><path d="M123.5 168.4 127.8 165.2 129.0 168.0 124.9 171.2Z" fill="#b0b0b0"/><path d="M124.5 170.4 128.7 167.2 129.5 169.2 125.5 172.5Z" fill="#a7a7a7"/><path d="M106.8 121.4 115.2 119.3 116.2 122.0 108.1 124.2Z" fill="#8f8f8f"/><path d="M107.7 123.5 115.9 121.3 116.9 124.0 109.0 126.3Z" fill="#cfcfcf"/><path d="M108.6 125.5 116.6 123.3 117.6 126.0 109.9 128.3Z" fill="#dedede"/><path d="M109.5 127.5 117.4 125.3 118.4 128.0 110.8 130.3Z" fill="#e2e2e2"/><path d="M110.4 129.5 118.1 127.3 119.1 130.0 111.7 132.3Z" fill="#e7e7e7"/><path d="M111.3 131.6 118.8 129.3 119.8 132.0 112.6 134.4Z" fill="#eaeaea"/><path d="M112.2 133.6 119.5 131.3 120.5 134.0 113.5 136.4Z" fill="#ececec"/><path d="M113.1 135.6 120.3 133.3 121.3 136.0 114.4 138.4Z" fill="#eeeeee"/><path d="M114.0 137.6 121.0 135.3 122.0 138.0 115.3 140.4Z" fill="#f0f0f0"/><path d="M114.9 139.7 121.7 137.3 122.7 140.0 116.2 142.5Z" fill="#f0f0f0"/><path d="M115.8 141.7 122.4 139.2 123.4 142.0 117.1 144.5Z" fill="#efefef"/><path d="M116.7 143.7 123.1 141.2 124.1 144.0 118.0 146.5Z" fill="#ededed"/><path d="M117.6 145.7 123.9 143.2 124.9 146.0 118.9 148.5Z" fill="#ebebeb"/><path d="M118.5 147.8 124.6 145.2 125.6 148.0 119.7 150.6Z" fill="#eaeaea"/><path d="M119.4 149.8 125.3 147.2 126.3 150.0 120.6 152.6Z" fill="#e6e6e6"/><path d="M120.3 151.8 126.0 149.2 127.0 152.0 121.5 154.6Z" fill="#cccccc"/><path d="M121.2 153.8 126.8 151.2 127.8 154.0 122.4 156.6Z" fill="#b2b2b2"/><path d="M122.1 155.9 127.5 153.2 128.5 156.0 123.3 158.7Z" fill="#a9a9a9"/><path d="M123.0 157.9 128.2 155.2 129.2 158.0 124.2 160.7Z" fill="#aaaaaa"/><path d="M123.9 159.9 128.9 157.2 129.9 160.0 125.1 162.7Z" fill="#acacac"/><path d="M124.8 161.9 129.6 159.2 130.6 162.0 126.0 164.7Z" fill="#b0b0b0"/><path d="M125.7 164.0 130.4 161.2 131.4 164.0 126.9 166.8Z" fill="#b4b4b4"/><path d="M126.6 166.0 131.1 163.2 132.1 166.0 127.8 168.8Z" fill="#aeaeae"/><path d="M127.5 168.0 131.8 165.2 132.5 167.2 128.4 170.0Z" fill="#a7a7a7"/><path d="M112.8 119.7 121.4 118.6 122.3 121.3 113.9 122.5Z" fill="#909090"/><path d="M113.6 121.7 122.0 120.5 122.9 123.2 114.7 124.5Z" fill="#cccccc"/><path d="M114.4 123.7 122.6 122.5 123.4 125.2 115.5 126.5Z" fill="#dedede"/><path d="M115.2 125.7 123.2 124.4 124.0 127.1 116.2 128.5Z" fill="#e3e3e3"/><path d="M115.9 127.8 123.8 126.4 124.6 129.1 117.0 130.5Z" fill="#e7e7e7"/><path d="M116.7 129.8 124.4 128.4 125.2 131.1 117.8 132.5Z" fill="#eaeaea"/><path d="M117.5 131.8 125.0 130.3 125.8 133.0 118.5 134.6Z" fill="#ececec"/><path d="M118.2 133.8 125.6 132.3 126.4 135.0 119.3 136.6Z" fill="#eeeeee"/><path d="M119.0 135.8 126.2 134.2 127.0 136.9 120.1 138.6Z" fill="#f1f1f1"/><path d="M119.8 137.8 126.8 136.2 127.6 138.9 120.9 140.6Z" fill="#f0f0f0"/><path d="M120.6 139.8 127.4 138.1 128.2 140.8 121.6 142.6Z" fill="#eeeeee"/><path d="M121.3 141.8 127.9 140.1 128.8 142.8 122.4 144.6Z" fill="#ededed"/><path d="M122.1 143.8 128.5 142.1 129.4 144.8 123.2 146.6Z" fill="#ebebeb"/><path d="M122.9 145.8 129.1 144.0 129.9 146.7 123.9 148.6Z" fill="#e9e9e9"/><path d="M123.7 147.8 129.7 146.0 130.5 148.7 124.7 150.6Z" fill="#e5e5e5"/><path d="M124.4 149.9 130.3 147.9 131.1 150.6 125.5 152.6Z" fill="#cdcdcd"/><path d="M125.2 151.9 130.9 149.9 131.7 152.6 126.3 154.6Z" fill="#b5b5b5"/><path d="M126.0 153.9 131.5 151.8 132.3 154.5 127.0 156.7Z" fill="#ababab"/><path d="M126.7 155.9 132.1 153.8 132.9 156.5 127.8 158.7Z" fill="#aaaaaa"/><path d="M127.5 157.9 132.7 155.7 133.5 158.5 128.6 160.7Z" fill="#ababab"/><path d="M128.3 159.9 133.3 157.7 134.1 160.4 129.3 162.7Z" fill="#aeaeae"/><path d="M129.1 161.9 133.9 159.7 134.7 162.4 130.1 164.7Z" fill="#b1b1b1"/><path d="M129.8 163.9 134.4 161.6 135.3 164.3 130.9 166.7Z" fill="#adadad"/><path d="M130.6 165.9 135.0 163.6 135.6 165.5 131.4 167.9Z" fill="#a7a7a7"/><path d="M119.0 118.8 127.8 118.3 128.5 121.0 119.9 121.5Z" fill="#919191"/><path d="M119.7 120.7 128.3 120.2 128.9 122.9 120.6 123.5Z" fill="#cacaca"/><path d="M120.3 122.7 128.7 122.2 129.4 124.8 121.2 125.5Z" fill="#dfdfdf"/><path d="M121.0 124.7 129.2 124.1 129.8 126.7 121.8 127.4Z" fill="#e3e3e3"/><path d="M121.6 126.7 129.6 126.0 130.3 128.6 122.5 129.4Z" fill="#e7e7e7"/><path d="M122.2 128.6 130.1 127.9 130.7 130.5 123.1 131.4Z" fill="#eaeaea"/><path d="M122.9 130.6 130.6 129.8 131.2 132.4 123.8 133.3Z" fill="#ededed"/><path d="M123.5 132.6 131.0 131.7 131.6 134.3 124.4 135.3Z" fill="#efefef"/><path d="M124.2 134.6 131.5 133.6 132.1 136.3 125.1 137.3Z" fill="#f1f1f1"/><path d="M124.8 136.5 131.9 135.5 132.6 138.2 125.7 139.3Z" fill="#f0f0f0"/><path d="M125.4 138.5 132.4 137.4 133.0 140.1 126.3 141.2Z" fill="#eeeeee"/><path d="M126.1 140.5 132.8 139.3 133.5 142.0 127.0 143.2Z" fill="#ececec"/><path d="M126.7 142.5 133.3 141.3 133.9 143.9 127.6 145.2Z" fill="#eaeaea"/><path d="M127.4 144.4 133.8 143.2 134.4 145.8 128.3 147.2Z" fill="#e8e8e8"/><path d="M128.0 146.4 134.2 145.1 134.8 147.7 128.9 149.1Z" fill="#e4e4e4"/><path d="M128.7 148.4 134.7 147.0 135.3 149.6 129.5 151.1Z" fill="#cecece"/><path d="M129.3 150.4 135.1 148.9 135.8 151.5 130.2 153.1Z" fill="#b7b7b7"/><path d="M129.9 152.3 135.6 150.8 136.2 153.4 130.8 155.1Z" fill="#adadad"/><path d="M130.6 154.3 136.0 152.7 136.7 155.4 131.5 157.0Z" fill="#ababab"/><path d="M131.2 156.3 136.5 154.6 137.1 157.3 132.1 159.0Z" fill="#ababab"/><path d="M131.9 158.2 137.0 156.5 137.6 159.2 132.8 161.0Z" fill="#acacac"/><path d="M132.5 160.2 137.4 158.4 138.0 161.1 133.4 163.0Z" fill="#aeaeae"/><path d="M133.1 162.2 137.9 160.4 138.5 163.0 134.0 164.9Z" fill="#ababab"/><path d="M133.8 164.2 138.3 162.3 138.8 164.2 134.4 166.1Z" fill="#a7a7a7"/><path d="M125.4 118.4 134.3 118.4 134.7 120.9 126.1 121.0Z" fill="#929292"/><path d="M125.9 120.3 134.6 120.2 135.1 122.8 126.6 123.0Z" fill="#c7c7c7"/><path d="M126.4 122.2 134.9 122.1 135.4 124.7 127.1 124.9Z" fill="#e0e0e0"/><path d="M126.9 124.2 135.3 124.0 135.7 126.5 127.6 126.8Z" fill="#e3e3e3"/><path d="M127.4 126.1 135.6 125.8 136.0 128.4 128.1 128.8Z" fill="#e7e7e7"/><path d="M127.9 128.0 135.9 127.7 136.3 130.3 128.6 130.7Z" fill="#eaeaea"/><path d="M128.4 129.9 136.2 129.6 136.7 132.1 129.1 132.6Z" fill="#ededed"/><path d="M128.9 131.9 136.5 131.4 137.0 134.0 129.6 134.5Z" fill="#efefef"/><path d="M129.4 133.8 136.9 133.3 137.3 135.9 130.1 136.5Z" fill="#f2f2f2"/><path d="M129.9 135.7 137.2 135.2 137.6 137.7 130.6 138.4Z" fill="#f0f0f0"/><path d="M130.4 137.7 137.5 137.0 137.9 139.6 131.1 140.3Z" fill="#eeeeee"/><path d="M131.0 139.6 137.8 138.9 138.3 141.5 131.7 142.3Z" fill="#ececec"/><path d="M131.5 141.5 138.1 140.7 138.6 143.3 132.2 144.2Z" fill="#e9e9e9"/><path d="M132.0 143.4 138.5 142.6 138.9 145.2 132.7 146.1Z" fill="#e7e7e7"/><path d="M132.5 145.4 138.8 144.5 139.2 147.1 133.2 148.0Z" fill="#e3e3e3"/><path d="M133.0 147.3 139.1 146.3 139.5 148.9 133.7 150.0Z" fill="#cfcfcf"/><path d="M133.5 149.2 139.4 148.2 139.9 150.8 134.2 151.9Z" fill="#bababa"/><path d="M134.0 151.2 139.7 150.1 140.2 152.7 134.7 153.8Z" fill="#afafaf"/><path d="M134.5 153.1 140.1 151.9 140.5 154.5 135.2 155.8Z" fill="#ababab"/><path d="M135.0 155.0 140.4 153.8 140.8 156.4 135.7 157.7Z" fill="#aaaaaa"/><path d="M135.5 156.9 140.7 155.7 141.1 158.3 136.2 159.6Z" fill="#aaaaaa"/><path d="M136.0 158.9 141.0 157.5 141.5 160.1 136.7 161.5Z" fill="#acacac"/><path d="M136.5 160.8 141.3 159.4 141.8 162.0 137.2 163.5Z" fill="#aaaaaa"/><path d="M137.1 162.7 141.7 161.3 142.0 163.1 137.6 164.7Z" fill="#a8a8a8"/><path d="M131.8 118.3 140.8 118.5 141.1 121.0 132.3 120.9Z" fill="#939393"/><path d="M132.2 120.2 141.0 120.3 141.3 122.8 132.7 122.8Z" fill="#c4c4c4"/><path d="M132.5 122.1 141.2 122.1 141.5 124.7 133.1 124.7Z" fill="#e0e0e0"/><path d="M132.9 124.0 141.4 124.0 141.6 126.5 133.4 126.6Z" fill="#e4e4e4"/><path d="M133.3 125.9 141.6 125.8 141.8 128.3 133.8 128.5Z" fill="#e7e7e7"/><path d="M133.7 127.7 141.8 127.6 142.0 130.2 134.2 130.3Z" fill="#eaeaea"/><path d="M134.0 129.6 141.9 129.5 142.2 132.0 134.5 132.2Z" fill="#ededed"/><path d="M134.4 131.5 142.1 131.3 142.4 133.8 134.9 134.1Z" fill="#f0f0f0"/><path d="M134.8 133.4 142.3 133.1 142.6 135.7 135.3 136.0Z" fill="#f2f2f2"/><path d="M135.2 135.3 142.5 135.0 142.7 137.5 135.7 137.9Z" fill="#f0f0f0"/><path d="M135.5 137.1 142.7 136.8 142.9 139.3 136.0 139.8Z" fill="#eeeeee"/><path d="M135.9 139.0 142.8 138.6 143.1 141.2 136.4 141.6Z" fill="#ebebeb"/><path d="M136.3 140.9 143.0 140.5 143.3 143.0 136.8 143.5Z" fill="#e9e9e9"/><path d="M136.6 142.8 143.2 142.3 143.5 144.8 137.2 145.4Z" fill="#e6e6e6"/><path d="M137.0 144.7 143.4 144.1 143.6 146.7 137.5 147.3Z" fill="#e2e2e2"/><path d="M137.4 146.6 143.6 146.0 143.8 148.5 137.9 149.2Z" fill="#cfcfcf"/><path d="M137.8 148.4 143.8 147.8 144.0 150.3 138.3 151.0Z" fill="#bdbdbd"/><path d="M138.1 150.3 143.9 149.6 144.2 152.2 138.7 152.9Z" fill="#b1b1b1"/><path d="M138.5 152.2 144.1 151.4 144.4 154.0 139.0 154.8Z" fill="#acacac"/><path d="M138.9 154.1 144.3 153.3 144.6 155.8 139.4 156.7Z" fill="#a9a9a9"/><path d="M139.3 156.0 144.5 155.1 144.7 157.6 139.8 158.6Z" fill="#a8a8a8"/><path d="M139.6 157.9 144.7 156.9 144.9 159.5 140.1 160.5Z" fill="#a9a9a9"/><path d="M140.0 159.7 144.9 158.8 145.1 161.3 140.5 162.3Z" fill="#a8a8a8"/><path d="M140.4 161.6 145.0 160.6 145.2 162.4 140.7 163.5Z" fill="#a8a8a8"/><path d="M138.3 118.4 147.4 118.6 147.5 121.1 138.6 121.0Z" fill="#949494"/><path d="M138.6 120.3 147.5 120.4 147.5 122.9 138.9 122.8Z" fill="#c1c1c1"/><path d="M138.8 122.1 147.5 122.2 147.6 124.7 139.1 124.7Z" fill="#e1e1e1"/><path d="M139.0 124.0 147.6 124.0 147.6 126.5 139.4 126.5Z" fill="#e4e4e4"/><path d="M139.3 125.8 147.6 125.8 147.7 128.3 139.6 128.4Z" fill="#e7e7e7"/><path d="M139.5 127.6 147.6 127.6 147.7 130.1 139.8 130.2Z" fill="#ebebeb"/><path d="M139.7 129.5 147.7 129.5 147.8 132.0 140.1 132.0Z" fill="#ededed"/><path d="M140.0 131.3 147.7 131.3 147.8 133.8 140.3 133.9Z" fill="#f0f0f0"/><path d="M140.2 133.2 147.8 133.1 147.8 135.6 140.5 135.7Z" fill="#f3f3f3"/><path d="M140.4 135.0 147.8 134.9 147.9 137.4 140.8 137.6Z" fill="#f0f0f0"/><path d="M140.7 136.9 147.9 136.7 147.9 139.2 141.0 139.4Z" fill="#eeeeee"/><path d="M140.9 138.7 147.9 138.5 148.0 141.0 141.2 141.3Z" fill="#ebebeb"/><path d="M141.1 140.5 148.0 140.3 148.0 142.8 141.5 143.1Z" fill="#e8e8e8"/><path d="M141.4 142.4 148.0 142.1 148.1 144.6 141.7 144.9Z" fill="#e5e5e5"/><path d="M141.6 144.2 148.0 143.9 148.1 146.5 141.9 146.8Z" fill="#e1e1e1"/><path d="M141.9 146.1 148.1 145.8 148.1 148.3 142.2 148.6Z" fill="#d0d0d0"/><path d="M142.1 147.9 148.1 147.6 148.2 150.1 142.4 150.5Z" fill="#c0c0c0"/><path d="M142.3 149.8 148.2 149.4 148.2 151.9 142.6 152.3Z" fill="#b3b3b3"/><path d="M142.6 151.6 148.2 151.2 148.3 153.7 142.9 154.2Z" fill="#acacac"/><path d="M142.8 153.5 148.3 153.0 148.3 155.5 143.1 156.0Z" fill="#a9a9a9"/><path d="M143.0 155.3 148.3 154.8 148.4 157.3 143.4 157.8Z" fill="#a6a6a6"/><path d="M143.3 157.1 148.4 156.6 148.4 159.1 143.6 159.7Z" fill="#a6a6a6"/><path d="M143.5 159.0 148.4 158.4 148.5 160.9 143.8 161.5Z" fill="#a7a7a7"/><path d="M143.7 160.8 148.4 160.3 148.5 162.1 144.0 162.7Z" fill="#a8a8a8"/><path d="M144.9 118.5 153.4 118.6 153.3 121.1 145.0 121.1Z" fill="#959595"/><path d="M145.0 120.4 153.3 120.4 153.2 122.9 145.1 122.9Z" fill="#bfbfbf"/><path d="M145.1 122.2 153.3 122.2 153.2 124.7 145.2 124.7Z" fill="#e1e1e1"/><path d="M145.2 124.0 153.2 124.0 153.1 126.5 145.3 126.5Z" fill="#e4e4e4"/><path d="M145.3 125.8 153.1 125.8 153.0 128.3 145.4 128.3Z" fill="#e8e8e8"/><path d="M145.4 127.6 153.1 127.6 153.0 130.1 145.5 130.2Z" fill="#ebebeb"/><path d="M145.5 129.5 153.0 129.5 152.9 132.0 145.6 132.0Z" fill="#eeeeee"/><path d="M145.6 131.3 152.9 131.3 152.8 133.8 145.7 133.8Z" fill="#f1f1f1"/><path d="M145.7 133.1 152.9 133.1 152.8 135.6 145.8 135.6Z" fill="#f3f3f3"/><path d="M145.8 134.9 152.8 134.9 152.7 137.4 145.9 137.4Z" fill="#f0f0f0"/><path d="M145.9 136.7 152.7 136.7 152.6 139.2 146.0 139.2Z" fill="#ededed"/><path d="M146.0 138.5 152.6 138.5 152.6 141.0 146.1 141.1Z" fill="#eaeaea"/><path d="M146.1 140.4 152.6 140.3 152.5 142.8 146.2 142.9Z" fill="#e7e7e7"/><path d="M146.2 142.2 152.5 142.1 152.4 144.6 146.3 144.7Z" fill="#e4e4e4"/><path d="M146.3 144.0 152.4 143.9 152.3 146.4 146.4 146.5Z" fill="#e0e0e0"/><path d="M146.4 145.8 152.4 145.7 152.3 148.2 146.5 148.3Z" fill="#d1d1d1"/><path d="M146.5 147.6 152.3 147.5 152.2 150.1 146.6 150.1Z" fill="#c2c2c2"/><path d="M146.5 149.4 152.2 149.4 152.1 151.9 146.7 152.0Z" fill="#b5b5b5"/><path d="M146.6 151.3 152.2 151.2 152.1 153.7 146.8 153.8Z" fill="#acacac"/><path d="M146.7 153.1 152.1 153.0 152.0 155.5 146.9 155.6Z" fill="#a8a8a8"/><path d="M146.8 154.9 152.0 154.8 151.9 157.3 147.0 157.4Z" fill="#a4a4a4"/><path d="M146.9 156.7 152.0 156.6 151.9 159.1 147.1 159.2Z" fill="#a3a3a3"/><path d="M147.0 158.5 151.9 158.4 151.8 160.9 147.2 161.0Z" fill="#a6a6a6"/><path d="M147.1 160.3 151.8 160.2 151.8 162.0 147.2 162.2Z" fill="#a8a8a8"/><path d="M151.5 118.6 158.4 118.5 158.2 121.0 151.4 121.1Z" fill="#969696"/><path d="M151.5 120.4 158.3 120.3 158.1 122.9 151.4 122.9Z" fill="#bdbdbd"/><path d="M151.4 122.2 158.1 122.2 157.9 124.7 151.4 124.7Z" fill="#e0e0e0"/><path d="M151.4 124.0 158.0 124.0 157.8 126.5 151.3 126.5Z" fill="#e3e3e3"/><path d="M151.3 125.8 157.8 125.8 157.6 128.3 151.3 128.3Z" fill="#e6e6e6"/><path d="M151.3 127.6 157.7 127.6 157.5 130.2 151.2 130.1Z" fill="#e9e9e9"/><path d="M151.2 129.4 157.6 129.5 157.4 132.0 151.2 132.0Z" fill="#ebebeb"/><path d="M151.2 131.3 157.4 131.3 157.2 133.8 151.2 133.8Z" fill="#eeeeee"/><path d="M151.2 133.1 157.3 133.1 157.1 135.6 151.1 135.6Z" fill="#f2f2f2"/><path d="M151.1 134.9 157.1 134.9 156.9 137.5 151.1 137.4Z" fill="#f0f0f0"/><path d="M151.1 136.7 157.0 136.8 156.8 139.3 151.0 139.2Z" fill="#ededed"/><path d="M151.0 138.5 156.9 138.6 156.7 141.1 151.0 141.0Z" fill="#eaeaea"/><path d="M151.0 140.3 156.7 140.4 156.5 142.9 150.9 142.8Z" fill="#e7e7e7"/><path d="M151.0 142.1 156.6 142.2 156.4 144.8 150.9 144.6Z" fill="#e4e4e4"/><path d="M150.9 143.9 156.4 144.1 156.2 146.6 150.9 146.4Z" fill="#e0e0e0"/><path d="M150.9 145.7 156.3 145.9 156.1 148.4 150.8 148.2Z" fill="#d3d3d3"/><path d="M150.8 147.5 156.1 147.7 156.0 150.2 150.8 150.0Z" fill="#c5c5c5"/><path d="M150.8 149.3 156.0 149.5 155.8 152.1 150.7 151.8Z" fill="#b8b8b8"/><path d="M150.8 151.2 155.9 151.4 155.7 153.9 150.7 153.7Z" fill="#afafaf"/><path d="M150.7 153.0 155.7 153.2 155.5 155.7 150.7 155.5Z" fill="#ababab"/><path d="M150.7 154.8 155.6 155.0 155.4 157.5 150.6 157.3Z" fill="#a6a6a6"/><path d="M150.6 156.6 155.4 156.8 155.3 159.4 150.6 159.1Z" fill="#a4a4a4"/><path d="M150.6 158.4 155.3 158.7 155.1 161.2 150.5 160.9Z" fill="#a6a6a6"/><path d="M150.5 160.2 155.2 160.5 155.0 162.3 150.5 162.0Z" fill="#a9a9a9"/><path d="M156.5 118.5 163.5 118.4 163.2 121.0 156.3 121.1Z" fill="#959595"/><path d="M156.4 120.4 163.3 120.2 163.0 122.8 156.2 122.9Z" fill="#bbbbbb"/><path d="M156.2 122.2 163.1 122.1 162.8 124.7 156.1 124.7Z" fill="#dcdcdc"/><path d="M156.1 124.0 162.9 124.0 162.5 126.5 156.0 126.5Z" fill="#dfdfdf"/><path d="M156.0 125.8 162.6 125.8 162.3 128.4 155.9 128.3Z" fill="#e2e2e2"/><path d="M155.9 127.6 162.4 127.7 162.1 130.2 155.8 130.2Z" fill="#e5e5e5"/><path d="M155.8 129.5 162.2 129.5 161.9 132.1 155.6 132.0Z" fill="#e4e4e4"/><path d="M155.7 131.3 162.0 131.4 161.7 133.9 155.5 133.8Z" fill="#e6e6e6"/><path d="M155.6 133.1 161.8 133.2 161.5 135.8 155.4 135.6Z" fill="#efefef"/><path d="M155.5 134.9 161.5 135.1 161.2 137.7 155.3 137.4Z" fill="#f0f0f0"/><path d="M155.3 136.7 161.3 137.0 161.0 139.5 155.2 139.2Z" fill="#ededed"/><path d="M155.2 138.5 161.1 138.8 160.8 141.4 155.1 141.1Z" fill="#eaeaea"/><path d="M155.1 140.4 160.9 140.7 160.6 143.2 155.0 142.9Z" fill="#e7e7e7"/><path d="M155.0 142.2 160.7 142.5 160.4 145.1 154.9 144.7Z" fill="#e4e4e4"/><path d="M154.9 144.0 160.5 144.4 160.1 146.9 154.7 146.5Z" fill="#e0e0e0"/><path d="M154.8 145.8 160.2 146.2 159.9 148.8 154.6 148.3Z" fill="#d5d5d5"/><path d="M154.7 147.6 160.0 148.1 159.7 150.7 154.5 150.1Z" fill="#c9c9c9"/><path d="M154.6 149.4 159.8 149.9 159.5 152.5 154.4 152.0Z" fill="#bdbdbd"/><path d="M154.4 151.3 159.6 151.8 159.3 154.4 154.3 153.8Z" fill="#b5b5b5"/><path d="M154.3 153.1 159.4 153.7 159.1 156.2 154.2 155.6Z" fill="#b0b0b0"/><path d="M154.2 154.9 159.1 155.5 158.8 158.1 154.1 157.4Z" fill="#ababab"/><path d="M154.1 156.7 158.9 157.4 158.6 159.9 154.0 159.2Z" fill="#a8a8a8"/><path d="M154.0 158.5 158.7 159.2 158.4 161.8 153.8 161.0Z" fill="#aaaaaa"/><path d="M153.9 160.3 158.5 161.1 158.3 162.9 153.8 162.2Z" fill="#acacac"/><path d="M161.5 118.4 168.8 118.3 168.4 120.9 161.3 121.0Z" fill="#959595"/><path d="M161.3 120.3 168.5 120.2 168.1 122.8 161.1 122.8Z" fill="#bababa"/><path d="M161.2 122.1 168.2 122.1 167.8 124.7 160.9 124.7Z" fill="#d9d9d9"/><path d="M161.0 124.0 167.9 124.0 167.5 126.6 160.7 126.5Z" fill="#dcdcdc"/><path d="M160.8 125.8 167.6 125.9 167.2 128.5 160.5 128.4Z" fill="#dfdfdf"/><path d="M160.6 127.6 167.3 127.8 166.9 130.4 160.3 130.2Z" fill="#e1e1e1"/><path d="M160.4 129.5 167.0 129.7 166.5 132.3 160.1 132.0Z" fill="#dddddd"/><path d="M160.2 131.3 166.7 131.6 166.2 134.2 160.0 133.9Z" fill="#dfdfdf"/><path d="M160.0 133.2 166.4 133.5 165.9 136.1 159.8 135.7Z" fill="#ebebeb"/><path d="M159.8 135.0 166.1 135.4 165.6 138.0 159.6 137.6Z" fill="#efefef"/><path d="M159.7 136.9 165.7 137.3 165.3 139.9 159.4 139.4Z" fill="#ececec"/><path d="M159.5 138.7 165.4 139.2 165.0 141.8 159.2 141.3Z" fill="#eaeaea"/><path d="M159.3 140.5 165.1 141.1 164.7 143.7 159.0 143.1Z" fill="#e7e7e7"/><path d="M159.1 142.4 164.8 143.0 164.4 145.6 158.8 144.9Z" fill="#e4e4e4"/><path d="M158.9 144.2 164.5 144.9 164.1 147.5 158.6 146.8Z" fill="#e1e1e1"/><path d="M158.7 146.1 164.2 146.8 163.8 149.4 158.5 148.6Z" fill="#d6d6d6"/><path d="M158.5 147.9 163.9 148.7 163.5 151.3 158.3 150.5Z" fill="#cccccc"/><path d="M158.3 149.8 163.6 150.6 163.2 153.2 158.1 152.3Z" fill="#c1c1c1"/><path d="M158.2 151.6 163.3 152.5 162.9 155.1 157.9 154.2Z" fill="#bababa"/><path d="M158.0 153.5 163.0 154.4 162.6 157.0 157.7 156.0Z" fill="#b6b6b6"/><path d="M157.8 155.3 162.7 156.3 162.3 158.9 157.5 157.8Z" fill="#b0b0b0"/><path d="M157.6 157.1 162.4 158.2 162.0 160.8 157.3 159.7Z" fill="#adadad"/><path d="M157.4 159.0 162.1 160.1 161.7 162.7 157.1 161.5Z" fill="#adadad"/><path d="M157.2 160.8 161.8 162.0 161.5 163.9 157.0 162.7Z" fill="#aeaeae"/><path d="M166.7 118.3 174.3 118.5 173.8 121.2 166.4 120.9Z" fill="#949494"/><path d="M166.5 120.2 173.9 120.4 173.4 123.1 166.1 122.8Z" fill="#b9b9b9"/><path d="M166.2 122.1 173.5 122.4 173.0 125.1 165.8 124.7Z" fill="#d5d5d5"/><path d="M165.9 124.0 173.1 124.3 172.6 127.0 165.6 126.6Z" fill="#d8d8d8"/><path d="M165.7 125.9 172.7 126.3 172.2 129.0 165.3 128.5Z" fill="#dbdbdb"/><path d="M165.4 127.7 172.3 128.2 171.8 130.9 165.0 130.3Z" fill="#dcdcdc"/><path d="M165.1 129.6 171.9 130.2 171.3 132.9 164.7 132.2Z" fill="#d7d7d7"/><path d="M164.8 131.5 171.5 132.1 170.9 134.8 164.5 134.1Z" fill="#d8d8d8"/><path d="M164.6 133.4 171.1 134.0 170.5 136.7 164.2 136.0Z" fill="#e8e8e8"/><path d="M164.3 135.3 170.7 136.0 170.1 138.7 163.9 137.9Z" fill="#efefef"/><path d="M164.0 137.1 170.3 137.9 169.7 140.6 163.7 139.8Z" fill="#ececec"/><path d="M163.8 139.0 169.9 139.9 169.3 142.6 163.4 141.6Z" fill="#eaeaea"/><path d="M163.5 140.9 169.5 141.8 168.9 144.5 163.1 143.5Z" fill="#e7e7e7"/><path d="M163.2 142.8 169.1 143.8 168.5 146.5 162.9 145.4Z" fill="#e5e5e5"/><path d="M163.0 144.7 168.7 145.7 168.1 148.4 162.6 147.3Z" fill="#e1e1e1"/><path d="M162.7 146.6 168.3 147.7 167.7 150.4 162.3 149.2Z" fill="#d8d8d8"/><path d="M162.4 148.4 167.9 149.6 167.3 152.3 162.0 151.0Z" fill="#cfcfcf"/><path d="M162.1 150.3 167.5 151.6 166.9 154.3 161.8 152.9Z" fill="#c6c6c6"/><path d="M161.9 152.2 167.1 153.5 166.5 156.2 161.5 154.8Z" fill="#c0c0c0"/><path d="M161.6 154.1 166.7 155.5 166.1 158.2 161.2 156.7Z" fill="#bbbbbb"/><path d="M161.3 156.0 166.3 157.4 165.7 160.1 161.0 158.6Z" fill="#b5b5b5"/><path d="M161.1 157.9 165.9 159.4 165.3 162.0 160.7 160.5Z" fill="#b1b1b1"/><path d="M160.8 159.7 165.5 161.3 164.9 164.0 160.4 162.3Z" fill="#b1b1b1"/><path d="M160.5 161.6 165.1 163.2 164.7 165.2 160.3 163.5Z" fill="#b0b0b0"/><path d="M172.2 118.4 180.1 119.1 179.4 121.8 171.7 121.0Z" fill="#949494"/><path d="M171.8 120.3 179.6 121.0 178.9 123.8 171.3 123.0Z" fill="#b8b8b8"/><path d="M171.4 122.2 179.1 123.0 178.4 125.8 170.9 124.9Z" fill="#d2d2d2"/><path d="M171.1 124.2 178.6 125.0 177.9 127.8 170.6 126.8Z" fill="#d5d5d5"/><path d="M170.7 126.1 178.1 127.0 177.3 129.8 170.2 128.8Z" fill="#d8d8d8"/><path d="M170.4 128.0 177.5 129.0 176.8 131.8 169.8 130.7Z" fill="#d8d8d8"/><path d="M170.0 129.9 177.0 131.0 176.3 133.7 169.5 132.6Z" fill="#d0d0d0"/><path d="M169.6 131.9 176.5 133.0 175.8 135.7 169.1 134.5Z" fill="#d1d1d1"/><path d="M169.3 133.8 176.0 135.0 175.3 137.7 168.8 136.5Z" fill="#e5e5e5"/><path d="M168.9 135.7 175.5 137.0 174.8 139.7 168.4 138.4Z" fill="#eeeeee"/><path d="M168.5 137.7 175.0 138.9 174.3 141.7 168.0 140.3Z" fill="#ececec"/><path d="M168.2 139.6 174.5 140.9 173.7 143.7 167.7 142.3Z" fill="#e9e9e9"/><path d="M167.8 141.5 173.9 142.9 173.2 145.7 167.3 144.2Z" fill="#e7e7e7"/><path d="M167.4 143.4 173.4 144.9 172.7 147.7 166.9 146.1Z" fill="#e5e5e5"/><path d="M167.1 145.4 172.9 146.9 172.2 149.7 166.6 148.0Z" fill="#e2e2e2"/><path d="M166.7 147.3 172.4 148.9 171.7 151.6 166.2 150.0Z" fill="#dadada"/><path d="M166.4 149.2 171.9 150.9 171.2 153.6 165.8 151.9Z" fill="#d2d2d2"/><path d="M166.0 151.2 171.4 152.9 170.6 155.6 165.5 153.8Z" fill="#cacaca"/><path d="M165.6 153.1 170.8 154.9 170.1 157.6 165.1 155.8Z" fill="#c5c5c5"/><path d="M165.3 155.0 170.3 156.8 169.6 159.6 164.8 157.7Z" fill="#c1c1c1"/><path d="M164.9 156.9 169.8 158.8 169.1 161.6 164.4 159.6Z" fill="#bbbbbb"/><path d="M164.5 158.9 169.3 160.8 168.6 163.6 164.0 161.5Z" fill="#b6b6b6"/><path d="M164.2 160.8 168.8 162.8 168.1 165.6 163.7 163.5Z" fill="#b4b4b4"/><path d="M163.8 162.7 168.3 164.8 167.8 166.8 163.4 164.7Z" fill="#b2b2b2"/><path d="M177.9 118.8 186.2 120.3 185.3 123.1 177.2 121.5Z" fill="#939393"/><path d="M177.4 120.7 185.5 122.3 184.6 125.1 176.7 123.5Z" fill="#b6b6b6"/><path d="M176.9 122.7 184.9 124.3 184.0 127.1 176.3 125.5Z" fill="#cecece"/><path d="M176.4 124.7 184.2 126.3 183.4 129.1 175.8 127.4Z" fill="#d1d1d1"/><path d="M176.0 126.7 183.6 128.3 182.7 131.1 175.3 129.4Z" fill="#d4d4d4"/><path d="M175.5 128.6 183.0 130.4 182.1 133.2 174.9 131.4Z" fill="#d4d4d4"/><path d="M175.0 130.6 182.3 132.4 181.4 135.2 174.4 133.3Z" fill="#cacaca"/><path d="M174.6 132.6 181.7 134.4 180.8 137.2 173.9 135.3Z" fill="#c9c9c9"/><path d="M174.1 134.6 181.0 136.4 180.2 139.2 173.4 137.3Z" fill="#e1e1e1"/><path d="M173.6 136.5 180.4 138.4 179.5 141.2 173.0 139.3Z" fill="#eeeeee"/><path d="M173.2 138.5 179.8 140.5 178.9 143.3 172.5 141.2Z" fill="#ebebeb"/><path d="M172.7 140.5 179.1 142.5 178.2 145.3 172.0 143.2Z" fill="#e9e9e9"/><path d="M172.2 142.5 178.5 144.5 177.6 147.3 171.6 145.2Z" fill="#e7e7e7"/><path d="M171.7 144.4 177.8 146.5 177.0 149.3 171.1 147.2Z" fill="#e5e5e5"/><path d="M171.3 146.4 177.2 148.5 176.3 151.3 170.6 149.1Z" fill="#e3e3e3"/><path d="M170.8 148.4 176.6 150.5 175.7 153.3 170.2 151.1Z" fill="#dcdcdc"/><path d="M170.3 150.4 175.9 152.6 175.0 155.4 169.7 153.1Z" fill="#d6d6d6"/><path d="M169.9 152.3 175.3 154.6 174.4 157.4 169.2 155.1Z" fill="#cfcfcf"/><path d="M169.4 154.3 174.6 156.6 173.7 159.4 168.7 157.0Z" fill="#cacaca"/><path d="M168.9 156.3 174.0 158.6 173.1 161.4 168.3 159.0Z" fill="#c7c7c7"/><path d="M168.5 158.2 173.4 160.6 172.5 163.4 167.8 161.0Z" fill="#c0c0c0"/><path d="M168.0 160.2 172.7 162.7 171.8 165.4 167.3 163.0Z" fill="#bbbbbb"/><path d="M167.5 162.2 172.1 164.7 171.2 167.5 166.9 164.9Z" fill="#b7b7b7"/><path d="M167.0 164.2 171.4 166.7 170.8 168.7 166.6 166.1Z" fill="#b4b4b4"/><path d="M183.8 119.7 192.5 122.4 191.4 125.2 183.0 122.5Z" fill="#939393"/><path d="M183.2 121.7 191.7 124.4 190.6 127.2 182.4 124.5Z" fill="#b5b5b5"/><path d="M182.6 123.7 190.9 126.4 189.8 129.2 181.8 126.5Z" fill="#cbcbcb"/><path d="M182.0 125.7 190.1 128.4 189.0 131.2 181.2 128.5Z" fill="#cecece"/><path d="M181.5 127.8 189.3 130.5 188.3 133.3 180.6 130.5Z" fill="#d1d1d1"/><path d="M180.9 129.8 188.6 132.5 187.5 135.3 180.0 132.5Z" fill="#d0d0d0"/><path d="M180.3 131.8 187.8 134.5 186.7 137.3 179.5 134.6Z" fill="#c3c3c3"/><path d="M179.7 133.8 187.0 136.5 185.9 139.3 178.9 136.6Z" fill="#c2c2c2"/><path d="M179.1 135.8 186.2 138.5 185.1 141.4 178.3 138.6Z" fill="#dedede"/><path d="M178.5 137.8 185.4 140.6 184.4 143.4 177.7 140.6Z" fill="#ededed"/><path d="M177.9 139.8 184.7 142.6 183.6 145.4 177.1 142.6Z" fill="#ebebeb"/><path d="M177.3 141.8 183.9 144.6 182.8 147.4 176.5 144.6Z" fill="#e9e9e9"/><path d="M176.7 143.8 183.1 146.6 182.0 149.4 175.9 146.6Z" fill="#e7e7e7"/><path d="M176.1 145.8 182.3 148.7 181.2 151.5 175.3 148.6Z" fill="#e5e5e5"/><path d="M175.5 147.8 181.5 150.7 180.5 153.5 174.7 150.6Z" fill="#e3e3e3"/><path d="M175.0 149.9 180.8 152.7 179.7 155.5 174.1 152.6Z" fill="#dedede"/><path d="M174.4 151.9 180.0 154.7 178.9 157.5 173.5 154.6Z" fill="#d9d9d9"/><path d="M173.8 153.9 179.2 156.8 178.1 159.6 173.0 156.7Z" fill="#d4d4d4"/><path d="M173.2 155.9 178.4 158.8 177.3 161.6 172.4 158.7Z" fill="#d0d0d0"/><path d="M172.6 157.9 177.6 160.8 176.6 163.6 171.8 160.7Z" fill="#cccccc"/><path d="M172.0 159.9 176.9 162.8 175.8 165.6 171.2 162.7Z" fill="#c5c5c5"/><path d="M171.4 161.9 176.1 164.9 175.0 167.7 170.6 164.7Z" fill="#bfbfbf"/><path d="M170.8 163.9 175.3 166.9 174.2 169.7 170.0 166.7Z" fill="#bbbbbb"/><path d="M170.2 165.9 174.5 168.9 173.7 170.9 169.6 167.9Z" fill="#b6b6b6"/><path d="M190.0 121.4 198.9 125.5 197.6 128.3 189.0 124.2Z" fill="#939393"/><path d="M189.3 123.5 198.0 127.5 196.7 130.3 188.3 126.3Z" fill="#b4b4b4"/><path d="M188.6 125.5 197.0 129.5 195.8 132.3 187.6 128.3Z" fill="#c7c7c7"/><path d="M187.8 127.5 196.1 131.5 194.8 134.3 186.8 130.3Z" fill="#cacaca"/><path d="M187.1 129.5 195.2 133.5 193.9 136.3 186.1 132.3Z" fill="#cdcdcd"/><path d="M186.4 131.6 194.3 135.5 193.0 138.3 185.4 134.4Z" fill="#cccccc"/><path d="M185.7 133.6 193.3 137.5 192.0 140.3 184.7 136.4Z" fill="#bcbcbc"/><path d="M184.9 135.6 192.4 139.5 191.1 142.3 183.9 138.4Z" fill="#bbbbbb"/><path d="M184.2 137.6 191.5 141.5 190.2 144.3 183.2 140.4Z" fill="#dbdbdb"/><path d="M183.5 139.7 190.5 143.5 189.2 146.3 182.5 142.5Z" fill="#ededed"/><path d="M182.8 141.7 189.6 145.5 188.3 148.3 181.8 144.5Z" fill="#ebebeb"/><path d="M182.0 143.7 188.7 147.5 187.4 150.3 181.0 146.5Z" fill="#e9e9e9"/><path d="M181.3 145.7 187.7 149.5 186.5 152.3 180.3 148.5Z" fill="#e7e7e7"/><path d="M180.6 147.8 186.8 151.5 185.5 154.2 179.6 150.6Z" fill="#e5e5e5"/><path d="M179.9 149.8 185.9 153.5 184.6 156.2 178.9 152.6Z" fill="#e4e4e4"/><path d="M179.1 151.8 185.0 155.5 183.7 158.2 178.1 154.6Z" fill="#e0e0e0"/><path d="M178.4 153.8 184.0 157.5 182.7 160.2 177.4 156.6Z" fill="#dcdcdc"/><path d="M177.7 155.9 183.1 159.5 181.8 162.2 176.7 158.7Z" fill="#d8d8d8"/><path d="M177.0 157.9 182.2 161.5 180.9 164.2 176.0 160.7Z" fill="#d5d5d5"/><path d="M176.2 159.9 181.2 163.5 179.9 166.2 175.2 162.7Z" fill="#d2d2d2"/><path d="M175.5 161.9 180.3 165.5 179.0 168.2 174.5 164.7Z" fill="#cacaca"/><path d="M174.8 164.0 179.4 167.5 178.1 170.2 173.8 166.8Z" fill="#c4c4c4"/><path d="M174.1 166.0 178.4 169.5 177.2 172.2 173.1 168.8Z" fill="#bebebe"/><path d="M173.3 168.0 177.5 171.5 176.6 173.5 172.6 170.0Z" fill="#b9b9b9"/><path d="M196.4 124.2 205.4 130.0 203.9 132.6 195.2 127.0Z" fill="#929292"/><path d="M195.5 126.2 204.3 131.9 202.8 134.6 194.3 129.0Z" fill="#b2b2b2"/><path d="M194.7 128.2 203.2 133.8 201.7 136.5 193.5 131.0Z" fill="#c4c4c4"/><path d="M193.8 130.2 202.2 135.7 200.6 138.4 192.6 133.0Z" fill="#c7c7c7"/><path d="M192.9 132.2 201.1 137.7 199.6 140.3 191.7 135.0Z" fill="#cacaca"/><path d="M192.1 134.2 200.0 139.6 198.5 142.3 190.9 137.0Z" fill="#c8c8c8"/><path d="M191.2 136.2 198.9 141.5 197.4 144.2 190.0 139.0Z" fill="#b6b6b6"/><path d="M190.3 138.2 197.8 143.5 196.3 146.1 189.1 141.0Z" fill="#b4b4b4"/><path d="M189.4 140.3 196.7 145.4 195.2 148.1 188.2 143.0Z" fill="#d7d7d7"/><path d="M188.6 142.3 195.6 147.3 194.1 150.0 187.4 145.1Z" fill="#ececec"/><path d="M187.7 144.3 194.5 149.2 193.0 151.9 186.5 147.1Z" fill="#eaeaea"/><path d="M186.8 146.3 193.5 151.2 191.9 153.8 185.6 149.1Z" fill="#e9e9e9"/><path d="M186.0 148.3 192.4 153.1 190.9 155.8 184.8 151.1Z" fill="#e7e7e7"/><path d="M185.1 150.3 191.3 155.0 189.8 157.7 183.9 153.1Z" fill="#e5e5e5"/><path d="M184.2 152.3 190.2 157.0 188.7 159.6 183.0 155.1Z" fill="#e4e4e4"/><path d="M183.3 154.3 189.1 158.9 187.6 161.6 182.1 157.1Z" fill="#e2e2e2"/><path d="M182.5 156.4 188.0 160.8 186.5 163.5 181.3 159.1Z" fill="#dfdfdf"/><path d="M181.6 158.4 186.9 162.8 185.4 165.4 180.4 161.2Z" fill="#dddddd"/><path d="M180.7 160.4 185.8 164.7 184.3 167.4 179.5 163.2Z" fill="#dbdbdb"/><path d="M179.9 162.4 184.8 166.6 183.2 169.3 178.7 165.2Z" fill="#d7d7d7"/><path d="M179.0 164.4 183.7 168.5 182.2 171.2 177.8 167.2Z" fill="#d0d0d0"/><path d="M178.1 166.4 182.6 170.5 181.1 173.1 176.9 169.2Z" fill="#c8c8c8"/><path d="M177.2 168.4 181.5 172.4 180.0 175.1 176.0 171.2Z" fill="#c1c1c1"/><path d="M176.4 170.4 180.4 174.3 179.3 176.3 175.5 172.5Z" fill="#bbbbbb"/><path d="M202.9 128.1 211.8 135.7 210.1 138.2 201.5 130.8Z" fill="#929292"/><path d="M201.9 130.1 210.6 137.5 208.9 140.0 200.5 132.8Z" fill="#b1b1b1"/><path d="M200.9 132.0 209.4 139.3 207.6 141.8 199.4 134.7Z" fill="#c0c0c0"/><path d="M199.8 134.0 208.1 141.1 206.4 143.6 198.4 136.7Z" fill="#c3c3c3"/><path d="M198.8 135.9 206.9 142.9 205.1 145.5 197.4 138.7Z" fill="#c6c6c6"/><path d="M197.8 137.9 205.6 144.8 203.9 147.3 196.4 140.6Z" fill="#c4c4c4"/><path d="M196.8 139.9 204.4 146.6 202.6 149.1 195.3 142.6Z" fill="#afafaf"/><path d="M195.7 141.8 203.1 148.4 201.4 150.9 194.3 144.5Z" fill="#adadad"/><path d="M194.7 143.8 201.9 150.2 200.1 152.7 193.3 146.5Z" fill="#d4d4d4"/><path d="M193.7 145.7 200.6 152.0 198.9 154.6 192.3 148.5Z" fill="#ebebeb"/><path d="M192.6 147.7 199.4 153.9 197.7 156.4 191.2 150.4Z" fill="#eaeaea"/><path d="M191.6 149.7 198.1 155.7 196.4 158.2 190.2 152.4Z" fill="#e9e9e9"/><path d="M190.6 151.6 196.9 157.5 195.2 160.0 189.2 154.3Z" fill="#e7e7e7"/><path d="M189.6 153.6 195.6 159.3 193.9 161.8 188.1 156.3Z" fill="#e6e6e6"/><path d="M188.5 155.5 194.4 161.1 192.7 163.7 187.1 158.3Z" fill="#e5e5e5"/><path d="M187.5 157.5 193.1 163.0 191.4 165.5 186.1 160.2Z" fill="#e4e4e4"/><path d="M186.5 159.5 191.9 164.8 190.2 167.3 185.1 162.2Z" fill="#e2e2e2"/><path d="M185.5 161.4 190.7 166.6 188.9 169.1 184.0 164.1Z" fill="#e1e1e1"/><path d="M184.4 163.4 189.4 168.4 187.7 170.9 183.0 166.1Z" fill="#e0e0e0"/><path d="M183.4 165.3 188.2 170.2 186.4 172.8 182.0 168.1Z" fill="#dddddd"/><path d="M182.4 167.3 186.9 172.1 185.2 174.6 181.0 170.0Z" fill="#d5d5d5"/><path d="M181.4 169.3 185.7 173.9 183.9 176.4 179.9 172.0Z" fill="#cdcdcd"/><path d="M180.3 171.2 184.4 175.7 182.7 178.2 178.9 173.9Z" fill="#c5c5c5"/><path d="M179.3 173.2 183.2 177.5 181.9 179.3 178.3 175.1Z" fill="#bdbdbd"/><path d="M209.4 133.4 218.0 142.0 216.1 144.3 207.8 136.0Z" fill="#929292"/><path d="M208.2 135.2 216.6 143.6 214.7 146.0 206.6 137.8Z" fill="#b1b1b1"/><path d="M207.0 137.1 215.2 145.3 213.3 147.7 205.4 139.7Z" fill="#bfbfbf"/><path d="M205.8 139.0 213.8 147.0 211.9 149.4 204.2 141.5Z" fill="#c2c2c2"/><path d="M204.7 140.8 212.4 148.7 210.5 151.1 203.0 143.4Z" fill="#c5c5c5"/><path d="M203.5 142.7 211.0 150.4 209.1 152.8 201.8 145.3Z" fill="#c4c4c4"/><path d="M202.3 144.6 209.6 152.1 207.7 154.5 200.6 147.1Z" fill="#b2b2b2"/><path d="M201.1 146.4 208.2 153.8 206.3 156.2 199.5 149.0Z" fill="#b0b0b0"/><path d="M199.9 148.3 206.8 155.5 204.9 157.9 198.3 150.9Z" fill="#d3d3d3"/><path d="M198.7 150.2 205.4 157.2 203.5 159.6 197.1 152.7Z" fill="#e9e9e9"/><path d="M197.5 152.0 204.0 158.9 202.1 161.3 195.9 154.6Z" fill="#e8e8e8"/><path d="M196.4 153.9 202.6 160.6 200.7 163.0 194.7 156.5Z" fill="#e8e8e8"/><path d="M195.2 155.7 201.2 162.3 199.3 164.7 193.5 158.3Z" fill="#e7e7e7"/><path d="M194.0 157.6 199.8 164.0 197.9 166.4 192.3 160.2Z" fill="#e6e6e6"/><path d="M192.8 159.5 198.4 165.7 196.5 168.0 191.2 162.1Z" fill="#e6e6e6"/><path d="M191.6 161.3 197.0 167.4 195.1 169.7 190.0 163.9Z" fill="#e5e5e5"/><path d="M190.4 163.2 195.6 169.1 193.7 171.4 188.8 165.8Z" fill="#e4e4e4"/><path d="M189.2 165.1 194.2 170.8 192.3 173.1 187.6 167.6Z" fill="#e3e3e3"/><path d="M188.1 166.9 192.8 172.5 190.9 174.8 186.4 169.5Z" fill="#e2e2e2"/><path d="M186.9 168.8 191.4 174.2 189.5 176.5 185.2 171.4Z" fill="#e0e0e0"/><path d="M185.7 170.7 190.0 175.9 188.1 178.2 184.0 173.2Z" fill="#d8d8d8"/><path d="M184.5 172.5 188.6 177.6 186.7 179.9 182.9 175.1Z" fill="#d1d1d1"/><path d="M183.3 174.4 187.2 179.3 185.3 181.6 181.7 177.0Z" fill="#c7c7c7"/><path d="M182.1 176.3 185.8 181.0 184.4 182.7 180.9 178.1Z" fill="#bdbdbd"/><path d="M215.7 139.5 223.8 148.7 221.6 150.9 213.8 141.9Z" fill="#919191"/><path d="M214.4 141.2 222.2 150.3 220.1 152.4 212.5 143.6Z" fill="#b2b2b2"/><path d="M213.0 143.0 220.7 151.8 218.6 154.0 211.2 145.4Z" fill="#bebebe"/><path d="M211.7 144.7 219.2 153.4 217.0 155.6 209.8 147.1Z" fill="#c1c1c1"/><path d="M210.3 146.5 217.6 155.0 215.5 157.1 208.5 148.9Z" fill="#c5c5c5"/><path d="M209.0 148.2 216.1 156.5 213.9 158.7 207.1 150.6Z" fill="#c4c4c4"/><path d="M207.6 149.9 214.5 158.1 212.4 160.3 205.8 152.4Z" fill="#b6b6b6"/><path d="M206.3 151.7 213.0 159.7 210.8 161.8 204.4 154.1Z" fill="#b5b5b5"/><path d="M205.0 153.4 211.4 161.2 209.3 163.4 203.1 155.9Z" fill="#d3d3d3"/><path d="M203.6 155.2 209.9 162.8 207.8 164.9 201.8 157.6Z" fill="#e6e6e6"/><path d="M202.3 156.9 208.3 164.3 206.2 166.5 200.4 159.3Z" fill="#e6e6e6"/><path d="M200.9 158.7 206.8 165.9 204.7 168.1 199.1 161.1Z" fill="#e7e7e7"/><path d="M199.6 160.4 205.3 167.5 203.1 169.6 197.7 162.8Z" fill="#e7e7e7"/><path d="M198.2 162.2 203.7 169.0 201.6 171.2 196.4 164.6Z" fill="#e7e7e7"/><path d="M196.9 163.9 202.2 170.6 200.0 172.8 195.0 166.3Z" fill="#e8e8e8"/><path d="M195.6 165.7 200.6 172.2 198.5 174.3 193.7 168.1Z" fill="#e7e7e7"/><path d="M194.2 167.4 199.1 173.7 196.9 175.9 192.4 169.8Z" fill="#e6e6e6"/><path d="M192.9 169.1 197.5 175.3 195.4 177.5 191.0 171.6Z" fill="#e5e5e5"/><path d="M191.5 170.9 196.0 176.9 193.9 179.0 189.7 173.3Z" fill="#e4e4e4"/><path d="M190.2 172.6 194.5 178.4 192.3 180.6 188.3 175.0Z" fill="#e2e2e2"/><path d="M188.8 174.4 192.9 180.0 190.8 182.2 187.0 176.8Z" fill="#dcdcdc"/><path d="M187.5 176.1 191.4 181.6 189.2 183.7 185.6 178.5Z" fill="#d5d5d5"/><path d="M186.2 177.9 189.8 183.1 187.7 185.3 184.3 180.3Z" fill="#c9c9c9"/><path d="M184.8 179.6 188.3 184.7 186.7 186.2 183.5 181.4Z" fill="#bdbdbd"/><path d="M221.6 146.1 228.9 155.9 226.6 157.9 219.6 148.3Z" fill="#919191"/><path d="M220.1 147.7 227.2 157.3 224.9 159.3 218.1 149.9Z" fill="#b3b3b3"/><path d="M218.7 149.3 225.6 158.7 223.3 160.7 216.6 151.5Z" fill="#bdbdbd"/><path d="M217.2 150.9 223.9 160.2 221.6 162.1 215.1 153.1Z" fill="#c1c1c1"/><path d="M215.7 152.5 222.2 161.6 219.9 163.6 213.6 154.8Z" fill="#c4c4c4"/><path d="M214.2 154.1 220.6 163.0 218.3 165.0 212.1 156.4Z" fill="#c4c4c4"/><path d="M212.7 155.8 218.9 164.4 216.6 166.4 210.6 158.0Z" fill="#bababa"/><path d="M211.2 157.4 217.2 165.9 214.9 167.8 209.1 159.6Z" fill="#bababa"/><path d="M209.7 159.0 215.6 167.3 213.3 169.2 207.6 161.2Z" fill="#d3d3d3"/><path d="M208.2 160.6 213.9 168.7 211.6 170.7 206.2 162.8Z" fill="#e4e4e4"/><path d="M206.7 162.2 212.2 170.1 209.9 172.1 204.7 164.5Z" fill="#e5e5e5"/><path d="M205.2 163.8 210.6 171.5 208.3 173.5 203.2 166.1Z" fill="#e6e6e6"/><path d="M203.7 165.5 208.9 173.0 206.6 174.9 201.7 167.7Z" fill="#e7e7e7"/><path d="M202.3 167.1 207.2 174.4 204.9 176.4 200.2 169.3Z" fill="#e8e8e8"/><path d="M200.8 168.7 205.6 175.8 203.3 177.8 198.7 170.9Z" fill="#e9e9e9"/><path d="M199.3 170.3 203.9 177.2 201.6 179.2 197.2 172.5Z" fill="#e8e8e8"/><path d="M197.8 171.9 202.2 178.7 199.9 180.6 195.7 174.2Z" fill="#e8e8e8"/><path d="M196.3 173.5 200.6 180.1 198.3 182.1 194.2 175.8Z" fill="#e7e7e7"/><path d="M194.8 175.1 198.9 181.5 196.6 183.5 192.7 177.4Z" fill="#e6e6e6"/><path d="M193.3 176.8 197.2 182.9 194.9 184.9 191.2 179.0Z" fill="#e4e4e4"/><path d="M191.8 178.4 195.6 184.4 193.3 186.3 189.8 180.6Z" fill="#dfdfdf"/><path d="M190.3 180.0 193.9 185.8 191.6 187.8 188.3 182.2Z" fill="#dadada"/><path d="M188.8 181.6 192.2 187.2 189.9 189.2 186.8 183.9Z" fill="#cccccc"/><path d="M187.3 183.2 190.6 188.6 188.9 190.1 185.9 184.8Z" fill="#bdbdbd"/><path d="M227.0 153.1 233.1 163.5 230.7 165.2 224.8 155.1Z" fill="#919191"/><path d="M225.4 154.6 231.4 164.7 229.0 166.5 223.2 156.6Z" fill="#b3b3b3"/><path d="M223.8 156.0 229.6 166.0 227.2 167.8 221.5 158.1Z" fill="#bcbcbc"/><path d="M222.2 157.5 227.9 167.3 225.4 169.1 219.9 159.6Z" fill="#c0c0c0"/><path d="M220.5 159.0 226.1 168.6 223.7 170.3 218.3 161.0Z" fill="#c4c4c4"/><path d="M218.9 160.5 224.4 169.8 221.9 171.6 216.7 162.5Z" fill="#c5c5c5"/><path d="M217.3 161.9 222.6 171.1 220.2 172.9 215.0 164.0Z" fill="#bdbdbd"/><path d="M215.7 163.4 220.8 172.4 218.4 174.2 213.4 165.5Z" fill="#bfbfbf"/><path d="M214.0 164.9 219.1 173.7 216.6 175.4 211.8 167.0Z" fill="#d3d3d3"/><path d="M212.4 166.4 217.3 175.0 214.9 176.7 210.2 168.4Z" fill="#e1e1e1"/><path d="M210.8 167.9 215.6 176.2 213.1 178.0 208.6 169.9Z" fill="#e3e3e3"/><path d="M209.2 169.3 213.8 177.5 211.4 179.3 206.9 171.4Z" fill="#e5e5e5"/><path d="M207.6 170.8 212.0 178.8 209.6 180.5 205.3 172.9Z" fill="#e7e7e7"/><path d="M205.9 172.3 210.3 180.1 207.8 181.8 203.7 174.3Z" fill="#e9e9e9"/><path d="M204.3 173.8 208.5 181.3 206.1 183.1 202.1 175.8Z" fill="#ebebeb"/><path d="M202.7 175.3 206.8 182.6 204.3 184.4 200.4 177.3Z" fill="#eaeaea"/><path d="M201.1 176.7 205.0 183.9 202.6 185.6 198.8 178.8Z" fill="#e9e9e9"/><path d="M199.4 178.2 203.2 185.2 200.8 186.9 197.2 180.3Z" fill="#e9e9e9"/><path d="M197.8 179.7 201.5 186.4 199.0 188.2 195.6 181.7Z" fill="#e8e8e8"/><path d="M196.2 181.2 199.7 187.7 197.3 189.5 194.0 183.2Z" fill="#e6e6e6"/><path d="M194.6 182.7 198.0 189.0 195.5 190.7 192.3 184.7Z" fill="#e2e2e2"/><path d="M193.0 184.1 196.2 190.3 193.8 192.0 190.7 186.2Z" fill="#dedede"/><path d="M191.3 185.6 194.4 191.5 192.0 193.3 189.1 187.7Z" fill="#cecece"/><path d="M189.7 187.1 192.7 192.8 190.9 194.1 188.1 188.6Z" fill="#bcbcbc"/><path d="M231.6 160.5 236.9 171.4 234.3 173.0 229.2 162.4Z" fill="#919191"/><path d="M229.9 161.8 235.0 172.5 232.5 174.1 227.5 163.7Z" fill="#b4b4b4"/><path d="M228.2 163.2 233.2 173.7 230.6 175.2 225.8 165.0Z" fill="#bbbbbb"/><path d="M226.4 164.5 231.3 174.8 228.8 176.3 224.0 166.4Z" fill="#bfbfbf"/><path d="M224.7 165.8 229.5 175.9 227.0 177.5 222.3 167.7Z" fill="#c3c3c3"/><path d="M223.0 167.2 227.7 177.0 225.1 178.6 220.6 169.0Z" fill="#c5c5c5"/><path d="M221.3 168.5 225.8 178.1 223.3 179.7 218.9 170.4Z" fill="#c1c1c1"/><path d="M219.5 169.8 224.0 179.3 221.5 180.8 217.1 171.7Z" fill="#c3c3c3"/><path d="M217.8 171.2 222.2 180.4 219.6 181.9 215.4 173.0Z" fill="#d3d3d3"/><path d="M216.1 172.5 220.3 181.5 217.8 183.1 213.7 174.4Z" fill="#dedede"/><path d="M214.3 173.8 218.5 182.6 215.9 184.2 212.0 175.7Z" fill="#e1e1e1"/><path d="M212.6 175.2 216.6 183.7 214.1 185.3 210.2 177.0Z" fill="#e4e4e4"/><path d="M210.9 176.5 214.8 184.9 212.3 186.4 208.5 178.4Z" fill="#e7e7e7"/><path d="M209.2 177.8 213.0 186.0 210.4 187.5 206.8 179.7Z" fill="#eaeaea"/><path d="M207.4 179.2 211.1 187.1 208.6 188.7 205.0 181.0Z" fill="#ececec"/><path d="M205.7 180.5 209.3 188.2 206.8 189.8 203.3 182.4Z" fill="#ececec"/><path d="M204.0 181.8 207.5 189.3 204.9 190.9 201.6 183.7Z" fill="#ebebeb"/><path d="M202.3 183.2 205.6 190.5 203.1 192.0 199.9 185.0Z" fill="#eaeaea"/><path d="M200.5 184.5 203.8 191.6 201.2 193.1 198.1 186.4Z" fill="#eaeaea"/><path d="M198.8 185.8 201.9 192.7 199.4 194.3 196.4 187.7Z" fill="#e8e8e8"/><path d="M197.1 187.2 200.1 193.8 197.6 195.4 194.7 189.0Z" fill="#e5e5e5"/><path d="M195.3 188.5 198.3 194.9 195.7 196.5 193.0 190.4Z" fill="#e2e2e2"/><path d="M193.6 189.8 196.4 196.1 193.9 197.6 191.2 191.7Z" fill="#d0d0d0"/><path d="M191.9 191.2 194.6 197.2 192.8 198.3 190.2 192.5Z" fill="#bcbcbc"/><path d="M235.5 168.3 240.2 179.7 237.6 181.0 233.0 170.0Z" fill="#919191"/><path d="M233.7 169.5 238.3 180.7 235.7 182.0 231.2 171.1Z" fill="#b4b4b4"/><path d="M231.9 170.7 236.4 181.6 233.8 183.0 229.4 172.3Z" fill="#bbbbbb"/><path d="M230.1 171.9 234.5 182.6 231.8 183.9 227.5 173.5Z" fill="#bfbfbf"/><path d="M228.2 173.1 232.6 183.6 229.9 184.9 225.7 174.7Z" fill="#c2c2c2"/><path d="M226.4 174.2 230.7 184.5 228.0 185.8 223.9 175.9Z" fill="#c5c5c5"/><path d="M224.6 175.4 228.8 185.5 226.1 186.8 222.1 177.0Z" fill="#c5c5c5"/><path d="M222.8 176.6 226.9 186.4 224.2 187.8 220.3 178.2Z" fill="#c8c8c8"/><path d="M221.0 177.8 224.9 187.4 222.3 188.7 218.5 179.4Z" fill="#d3d3d3"/><path d="M219.2 179.0 223.0 188.3 220.4 189.7 216.7 180.6Z" fill="#dbdbdb"/><path d="M217.4 180.1 221.1 189.3 218.5 190.6 214.9 181.8Z" fill="#dfdfdf"/><path d="M215.6 181.3 219.2 190.3 216.6 191.6 213.1 183.0Z" fill="#e3e3e3"/><path d="M213.8 182.5 217.3 191.2 214.7 192.5 211.3 184.1Z" fill="#e7e7e7"/><path d="M212.0 183.7 215.4 192.2 212.8 193.5 209.5 185.3Z" fill="#eaeaea"/><path d="M210.2 184.9 213.5 193.1 210.9 194.5 207.7 186.5Z" fill="#eeeeee"/><path d="M208.4 186.0 211.6 194.1 208.9 195.4 205.8 187.7Z" fill="#ededed"/><path d="M206.5 187.2 209.7 195.0 207.0 196.4 204.0 188.9Z" fill="#ededed"/><path d="M204.7 188.4 207.8 196.0 205.1 197.3 202.2 190.0Z" fill="#ececec"/><path d="M202.9 189.6 205.9 197.0 203.2 198.3 200.4 191.2Z" fill="#ebebeb"/><path d="M201.1 190.8 204.0 197.9 201.3 199.2 198.6 192.4Z" fill="#eaeaea"/><path d="M199.3 191.9 202.0 198.9 199.4 200.2 196.8 193.6Z" fill="#e8e8e8"/><path d="M197.5 193.1 200.1 199.8 197.5 201.2 195.0 194.8Z" fill="#e7e7e7"/><path d="M195.7 194.3 198.2 200.8 195.6 202.1 193.2 195.9Z" fill="#d2d2d2"/><path d="M193.9 195.5 196.3 201.8 194.4 202.7 192.1 196.7Z" fill="#bcbcbc"/><path d="M239.0 176.5 243.2 188.3 240.5 189.4 236.4 177.9Z" fill="#919191"/><path d="M237.1 177.5 241.2 189.1 238.5 190.2 234.5 178.9Z" fill="#b5b5b5"/><path d="M235.2 178.5 239.2 189.9 236.5 191.0 232.6 180.0Z" fill="#bababa"/><path d="M233.3 179.6 237.3 190.7 234.5 191.8 230.7 181.0Z" fill="#bebebe"/><path d="M231.4 180.6 235.3 191.5 232.6 192.6 228.8 182.0Z" fill="#c2c2c2"/><path d="M229.6 181.6 233.3 192.3 230.6 193.4 227.0 183.0Z" fill="#c6c6c6"/><path d="M227.7 182.6 231.4 193.1 228.6 194.1 225.1 184.0Z" fill="#c9c9c9"/><path d="M225.8 183.6 229.4 193.8 226.7 194.9 223.2 185.1Z" fill="#cdcdcd"/><path d="M223.9 184.7 227.4 194.6 224.7 195.7 221.3 186.1Z" fill="#d3d3d3"/><path d="M222.0 185.7 225.4 195.4 222.7 196.5 219.4 187.1Z" fill="#d9d9d9"/><path d="M220.1 186.7 223.5 196.2 220.7 197.3 217.5 188.1Z" fill="#dddddd"/><path d="M218.3 187.7 221.5 197.0 218.8 198.1 215.7 189.1Z" fill="#e2e2e2"/><path d="M216.4 188.8 219.5 197.8 216.8 198.9 213.8 190.2Z" fill="#e7e7e7"/><path d="M214.5 189.8 217.6 198.6 214.8 199.7 211.9 191.2Z" fill="#ebebeb"/><path d="M212.6 190.8 215.6 199.4 212.9 200.5 210.0 192.2Z" fill="#efefef"/><path d="M210.7 191.8 213.6 200.2 210.9 201.3 208.1 193.2Z" fill="#efefef"/><path d="M208.9 192.8 211.6 201.0 208.9 202.0 206.3 194.2Z" fill="#eeeeee"/><path d="M207.0 193.9 209.7 201.7 207.0 202.8 204.4 195.3Z" fill="#eeeeee"/><path d="M205.1 194.9 207.7 202.5 205.0 203.6 202.5 196.3Z" fill="#ededed"/><path d="M203.2 195.9 205.7 203.3 203.0 204.4 200.6 197.3Z" fill="#ededed"/><path d="M201.3 196.9 203.8 204.1 201.0 205.2 198.7 198.3Z" fill="#ececec"/><path d="M199.4 197.9 201.8 204.9 199.1 206.0 196.8 199.4Z" fill="#ebebeb"/><path d="M197.6 199.0 199.8 205.7 197.1 206.8 195.0 200.4Z" fill="#d4d4d4"/><path d="M195.7 200.0 197.9 206.5 195.9 207.3 193.8 201.0Z" fill="#bcbcbc"/><path d="M242.1 185.0 245.8 197.2 243.0 198.0 239.4 186.2Z" fill="#919191"/><path d="M240.1 185.8 243.7 197.8 240.9 198.6 237.4 187.0Z" fill="#b5b5b5"/><path d="M238.2 186.7 241.7 198.4 238.9 199.3 235.5 187.9Z" fill="#b9b9b9"/><path d="M236.2 187.5 239.7 199.0 236.9 199.9 233.5 188.7Z" fill="#bebebe"/><path d="M234.3 188.4 237.7 199.6 234.9 200.5 231.6 189.6Z" fill="#c3c3c3"/><path d="M232.3 189.3 235.6 200.3 232.8 201.1 229.7 190.4Z" fill="#c8c8c8"/><path d="M230.4 190.1 233.6 200.9 230.8 201.7 227.7 191.3Z" fill="#cdcdcd"/><path d="M228.5 191.0 231.6 201.5 228.8 202.3 225.8 192.2Z" fill="#d1d1d1"/><path d="M226.5 191.8 229.6 202.1 226.8 203.0 223.8 193.0Z" fill="#d5d5d5"/><path d="M224.6 192.7 227.5 202.7 224.7 203.6 221.9 193.9Z" fill="#dadada"/><path d="M222.6 193.5 225.5 203.3 222.7 204.2 219.9 194.7Z" fill="#dedede"/><path d="M220.7 194.4 223.5 204.0 220.7 204.8 218.0 195.6Z" fill="#e3e3e3"/><path d="M218.7 195.2 221.5 204.6 218.7 205.4 216.0 196.4Z" fill="#e8e8e8"/><path d="M216.8 196.1 219.4 205.2 216.6 206.0 214.1 197.3Z" fill="#ececec"/><path d="M214.8 197.0 217.4 205.8 214.6 206.7 212.1 198.1Z" fill="#f0f0f0"/><path d="M212.9 197.8 215.4 206.4 212.6 207.3 210.2 199.0Z" fill="#f0f0f0"/><path d="M210.9 198.7 213.4 207.0 210.6 207.9 208.2 199.8Z" fill="#efefef"/><path d="M209.0 199.5 211.3 207.7 208.5 208.5 206.3 200.7Z" fill="#efefef"/><path d="M207.0 200.4 209.3 208.3 206.5 209.1 204.3 201.6Z" fill="#eeeeee"/><path d="M205.1 201.2 207.3 208.9 204.5 209.7 202.4 202.4Z" fill="#ededed"/><path d="M203.1 202.1 205.3 209.5 202.5 210.4 200.4 203.3Z" fill="#ededed"/><path d="M201.2 202.9 203.2 210.1 200.4 211.0 198.5 204.1Z" fill="#ececec"/><path d="M199.2 203.8 201.2 210.7 198.4 211.6 196.5 205.0Z" fill="#d6d6d6"/><path d="M197.3 204.6 199.2 211.4 197.2 212.0 195.3 205.5Z" fill="#bcbcbc"/><path d="M244.8 193.7 247.9 206.3 245.1 206.9 242.0 194.7Z" fill="#919191"/><path d="M242.8 194.4 245.9 206.7 243.0 207.3 240.0 195.4Z" fill="#b5b5b5"/><path d="M240.8 195.1 243.8 207.1 240.9 207.7 238.0 196.1Z" fill="#b9b9b9"/><path d="M238.8 195.8 241.7 207.6 238.8 208.2 236.0 196.7Z" fill="#bebebe"/><path d="M236.8 196.5 239.6 208.0 236.8 208.6 234.0 197.4Z" fill="#c5c5c5"/><path d="M234.8 197.2 237.6 208.5 234.7 209.1 232.0 198.1Z" fill="#cccccc"/><path d="M232.8 197.8 235.5 208.9 232.6 209.5 230.0 198.8Z" fill="#d0d0d0"/><path d="M230.8 198.5 233.4 209.3 230.6 209.9 228.0 199.5Z" fill="#d4d4d4"/><path d="M228.8 199.2 231.4 209.8 228.5 210.4 226.0 200.2Z" fill="#d8d8d8"/><path d="M226.8 199.9 229.3 210.2 226.4 210.8 224.0 200.8Z" fill="#dddddd"/><path d="M224.8 200.6 227.2 210.6 224.4 211.3 222.0 201.5Z" fill="#e1e1e1"/><path d="M222.8 201.3 225.2 211.1 222.3 211.7 220.0 202.2Z" fill="#e5e5e5"/><path d="M220.8 201.9 223.1 211.5 220.2 212.1 218.0 202.9Z" fill="#e9e9e9"/><path d="M218.7 202.6 221.0 212.0 218.1 212.6 216.0 203.6Z" fill="#ededed"/><path d="M216.7 203.3 218.9 212.4 216.1 213.0 214.0 204.3Z" fill="#f1f1f1"/><path d="M214.7 204.0 216.9 212.8 214.0 213.5 212.0 204.9Z" fill="#f0f0f0"/><path d="M212.7 204.7 214.8 213.3 211.9 213.9 210.0 205.6Z" fill="#f0f0f0"/><path d="M210.7 205.4 212.7 213.7 209.9 214.3 208.0 206.3Z" fill="#efefef"/><path d="M208.7 206.0 210.7 214.2 207.8 214.8 205.9 207.0Z" fill="#eeeeee"/><path d="M206.7 206.7 208.6 214.6 205.7 215.2 203.9 207.7Z" fill="#eeeeee"/><path d="M204.7 207.4 206.5 215.0 203.7 215.6 201.9 208.4Z" fill="#ededed"/><path d="M202.7 208.1 204.4 215.5 201.6 216.1 199.9 209.0Z" fill="#ededed"/><path d="M200.7 208.8 202.4 215.9 199.5 216.5 197.9 209.7Z" fill="#d7d7d7"/><path d="M198.7 209.5 200.3 216.4 198.2 216.8 196.7 210.2Z" fill="#bdbdbd"/><path d="M247.1 202.7 249.7 215.5 246.8 215.9 244.3 203.5Z" fill="#919191"/><path d="M245.1 203.3 247.6 215.8 244.7 216.1 242.2 204.0Z" fill="#b4b4b4"/><path d="M243.0 203.8 245.5 216.0 242.6 216.4 240.2 204.5Z" fill="#b9b9b9"/><path d="M241.0 204.3 243.4 216.3 240.4 216.7 238.1 205.0Z" fill="#bfbfbf"/><path d="M238.9 204.8 241.3 216.6 238.3 216.9 236.1 205.5Z" fill="#c7c7c7"/><path d="M236.9 205.3 239.1 216.8 236.2 217.2 234.0 206.0Z" fill="#cfcfcf"/><path d="M234.8 205.8 237.0 217.1 234.1 217.4 232.0 206.5Z" fill="#d4d4d4"/><path d="M232.8 206.3 234.9 217.3 232.0 217.7 229.9 207.0Z" fill="#d7d7d7"/><path d="M230.7 206.8 232.8 217.6 229.9 217.9 227.9 207.5Z" fill="#dbdbdb"/><path d="M228.7 207.3 230.7 217.9 227.8 218.2 225.8 208.0Z" fill="#dfdfdf"/><path d="M226.6 207.8 228.6 218.1 225.7 218.5 223.8 208.5Z" fill="#e3e3e3"/><path d="M224.5 208.3 226.5 218.4 223.6 218.7 221.7 209.0Z" fill="#e7e7e7"/><path d="M222.5 208.8 224.4 218.6 221.5 219.0 219.7 209.5Z" fill="#eaeaea"/><path d="M220.4 209.3 222.3 218.9 219.4 219.2 217.6 210.0Z" fill="#eeeeee"/><path d="M218.4 209.9 220.2 219.1 217.3 219.5 215.5 210.6Z" fill="#f1f1f1"/><path d="M216.3 210.4 218.1 219.4 215.2 219.8 213.5 211.1Z" fill="#f1f1f1"/><path d="M214.3 210.9 216.0 219.7 213.0 220.0 211.4 211.6Z" fill="#f0f0f0"/><path d="M212.2 211.4 213.9 219.9 210.9 220.3 209.4 212.1Z" fill="#efefef"/><path d="M210.2 211.9 211.8 220.2 208.8 220.5 207.3 212.6Z" fill="#efefef"/><path d="M208.1 212.4 209.6 220.4 206.7 220.8 205.3 213.1Z" fill="#eeeeee"/><path d="M206.1 212.9 207.5 220.7 204.6 221.0 203.2 213.6Z" fill="#ededed"/><path d="M204.0 213.4 205.4 220.9 202.5 221.3 201.2 214.1Z" fill="#ededed"/><path d="M202.0 213.9 203.3 221.2 200.4 221.6 199.1 214.6Z" fill="#d8d8d8"/><path d="M199.9 214.4 201.2 221.5 199.1 221.7 197.8 214.9Z" fill="#bdbdbd"/><path d="M249.1 212.0 251.0 225.0 248.1 225.1 246.2 212.4Z" fill="#919191"/><path d="M247.0 212.3 248.9 225.0 245.9 225.1 244.1 212.7Z" fill="#b4b4b4"/><path d="M244.9 212.6 246.8 225.1 243.8 225.2 242.0 213.1Z" fill="#b9b9b9"/><path d="M242.8 212.9 244.6 225.2 241.7 225.3 239.9 213.4Z" fill="#bfbfbf"/><path d="M240.7 213.3 242.5 225.2 239.5 225.3 237.8 213.7Z" fill="#c9c9c9"/><path d="M238.6 213.6 240.3 225.3 237.4 225.4 235.7 214.0Z" fill="#d2d2d2"/><path d="M236.5 213.9 238.2 225.4 235.3 225.5 233.6 214.4Z" fill="#d7d7d7"/><path d="M234.4 214.2 236.1 225.5 233.1 225.6 231.5 214.7Z" fill="#dbdbdb"/><path d="M232.3 214.6 233.9 225.5 231.0 225.6 229.4 215.0Z" fill="#dedede"/><path d="M230.2 214.9 231.8 225.6 228.8 225.7 227.3 215.4Z" fill="#e2e2e2"/><path d="M228.1 215.2 229.7 225.7 226.7 225.8 225.2 215.7Z" fill="#e5e5e5"/><path d="M226.0 215.6 227.5 225.8 224.6 225.9 223.1 216.0Z" fill="#e9e9e9"/><path d="M223.9 215.9 225.4 225.8 222.4 225.9 221.0 216.3Z" fill="#ececec"/><path d="M221.8 216.2 223.3 225.9 220.3 226.0 218.9 216.7Z" fill="#efefef"/><path d="M219.7 216.5 221.1 226.0 218.2 226.1 216.8 217.0Z" fill="#f2f2f2"/><path d="M217.6 216.9 219.0 226.1 216.0 226.2 214.7 217.3Z" fill="#f1f1f1"/><path d="M215.6 217.2 216.9 226.1 213.9 226.2 212.7 217.6Z" fill="#f1f1f1"/><path d="M213.5 217.5 214.7 226.2 211.8 226.3 210.6 218.0Z" fill="#f0f0f0"/><path d="M211.4 217.8 212.6 226.3 209.6 226.4 208.5 218.3Z" fill="#efefef"/><path d="M209.3 218.2 210.4 226.3 207.5 226.4 206.4 218.6Z" fill="#eeeeee"/><path d="M207.2 218.5 208.3 226.4 205.4 226.5 204.3 219.0Z" fill="#eeeeee"/><path d="M205.1 218.8 206.2 226.5 203.2 226.6 202.2 219.3Z" fill="#ededed"/><path d="M203.0 219.2 204.0 226.6 201.1 226.7 200.1 219.6Z" fill="#d9d9d9"/><path d="M200.9 219.5 201.9 226.6 199.8 226.7 198.8 219.8Z" fill="#bebebe"/><path d="M250.6 221.3 251.9 234.5 249.0 234.3 247.6 221.5Z" fill="#919191"/><path d="M248.4 221.5 249.8 234.4 246.8 234.2 245.5 221.7Z" fill="#b4b4b4"/><path d="M246.3 221.6 247.6 234.3 244.6 234.1 243.4 221.8Z" fill="#b9b9b9"/><path d="M244.2 221.8 245.5 234.1 242.5 234.0 241.2 222.0Z" fill="#bfbfbf"/><path d="M242.1 221.9 243.3 234.0 240.3 233.9 239.1 222.1Z" fill="#cacaca"/><path d="M239.9 222.0 241.2 233.9 238.2 233.8 237.0 222.2Z" fill="#d6d6d6"/><path d="M237.8 222.2 239.0 233.8 236.0 233.6 234.9 222.4Z" fill="#dbdbdb"/><path d="M235.7 222.3 236.9 233.7 233.9 233.5 232.7 222.5Z" fill="#dedede"/><path d="M233.6 222.5 234.7 233.6 231.7 233.4 230.6 222.7Z" fill="#e1e1e1"/><path d="M231.4 222.6 232.5 233.5 229.6 233.3 228.5 222.8Z" fill="#e5e5e5"/><path d="M229.3 222.8 230.4 233.3 227.4 233.2 226.4 223.0Z" fill="#e8e8e8"/><path d="M227.2 222.9 228.2 233.2 225.3 233.1 224.2 223.1Z" fill="#eaeaea"/><path d="M225.0 223.1 226.1 233.1 223.1 233.0 222.1 223.3Z" fill="#ededed"/><path d="M222.9 223.2 223.9 233.0 220.9 232.9 220.0 223.4Z" fill="#f0f0f0"/><path d="M220.8 223.3 221.8 232.9 218.8 232.7 217.9 223.5Z" fill="#f3f3f3"/><path d="M218.7 223.5 219.6 232.8 216.6 232.6 215.7 223.7Z" fill="#f2f2f2"/><path d="M216.5 223.6 217.5 232.7 214.5 232.5 213.6 223.8Z" fill="#f1f1f1"/><path d="M214.4 223.8 215.3 232.6 212.3 232.4 211.5 224.0Z" fill="#f0f0f0"/><path d="M212.3 223.9 213.1 232.4 210.2 232.3 209.4 224.1Z" fill="#f0f0f0"/><path d="M210.2 224.1 211.0 232.3 208.0 232.2 207.2 224.3Z" fill="#efefef"/><path d="M208.0 224.2 208.8 232.2 205.9 232.1 205.1 224.4Z" fill="#eeeeee"/><path d="M205.9 224.4 206.7 232.1 203.7 231.9 203.0 224.5Z" fill="#ededed"/><path d="M203.8 224.5 204.5 232.0 201.5 231.8 200.8 224.7Z" fill="#dadada"/><path d="M201.7 224.6 202.4 231.9 200.2 231.8 199.5 224.8Z" fill="#bebebe"/><path d="M251.6 230.8 252.4 244.1 249.4 243.7 248.7 230.8Z" fill="#919191"/><path d="M249.5 230.8 250.3 243.8 247.3 243.4 246.5 230.7Z" fill="#b4b4b4"/><path d="M247.3 230.7 248.1 243.5 245.1 243.1 244.4 230.7Z" fill="#b9b9b9"/><path d="M245.2 230.7 245.9 243.2 242.9 242.8 242.2 230.6Z" fill="#c0c0c0"/><path d="M243.0 230.6 243.8 242.9 240.8 242.5 240.1 230.6Z" fill="#cccccc"/><path d="M240.9 230.6 241.6 242.6 238.6 242.2 237.9 230.5Z" fill="#d9d9d9"/><path d="M238.7 230.6 239.4 242.3 236.4 241.9 235.8 230.5Z" fill="#dfdfdf"/><path d="M236.6 230.5 237.3 242.0 234.3 241.6 233.6 230.5Z" fill="#e2e2e2"/><path d="M234.4 230.5 235.1 241.7 232.1 241.3 231.5 230.4Z" fill="#e5e5e5"/><path d="M232.3 230.4 232.9 241.4 229.9 241.0 229.3 230.4Z" fill="#e8e8e8"/><path d="M230.2 230.4 230.8 241.1 227.8 240.7 227.2 230.3Z" fill="#eaeaea"/><path d="M228.0 230.4 228.6 240.8 225.6 240.4 225.0 230.3Z" fill="#ececec"/><path d="M225.9 230.3 226.4 240.5 223.4 240.0 222.9 230.3Z" fill="#efefef"/><path d="M223.7 230.3 224.3 240.2 221.3 239.7 220.7 230.2Z" fill="#f1f1f1"/><path d="M221.6 230.2 222.1 239.9 219.1 239.4 218.6 230.2Z" fill="#f3f3f3"/><path d="M219.4 230.2 219.9 239.6 216.9 239.1 216.4 230.1Z" fill="#f2f2f2"/><path d="M217.3 230.2 217.8 239.3 214.8 238.8 214.3 230.1Z" fill="#f2f2f2"/><path d="M215.1 230.1 215.6 239.0 212.6 238.5 212.1 230.1Z" fill="#f1f1f1"/><path d="M213.0 230.1 213.4 238.7 210.5 238.2 210.0 230.0Z" fill="#f0f0f0"/><path d="M210.8 230.0 211.3 238.4 208.3 237.9 207.8 230.0Z" fill="#efefef"/><path d="M208.7 230.0 209.1 238.1 206.1 237.6 205.7 229.9Z" fill="#eeeeee"/><path d="M206.5 229.9 207.0 237.8 204.0 237.3 203.5 229.9Z" fill="#eeeeee"/><path d="M204.4 229.9 204.8 237.5 201.8 237.0 201.4 229.8Z" fill="#dbdbdb"/><path d="M202.2 229.9 202.6 237.2 200.5 236.9 200.1 229.8Z" fill="#bfbfbf"/><path d="M252.3 240.4 252.5 251.0 249.5 250.4 249.3 240.1Z" fill="#909090"/><path d="M250.1 240.2 250.3 250.5 247.3 250.0 247.1 239.8Z" fill="#b3b3b3"/><path d="M248.0 239.9 248.2 250.1 245.2 249.6 245.0 239.6Z" fill="#b9b9b9"/><path d="M245.8 239.7 246.0 249.7 243.0 249.1 242.8 239.4Z" fill="#c0c0c0"/><path d="M243.6 239.5 243.8 249.3 240.8 248.7 240.6 239.2Z" fill="#cecece"/><path d="M241.5 239.2 241.7 248.9 238.7 248.3 238.5 238.9Z" fill="#dcdcdc"/><path d="M239.3 239.0 239.5 248.5 236.5 247.9 236.3 238.7Z" fill="#e2e2e2"/><path d="M237.1 238.8 237.3 248.1 234.3 247.5 234.2 238.5Z" fill="#e5e5e5"/><path d="M235.0 238.6 235.2 247.6 232.2 247.1 232.0 238.2Z" fill="#e8e8e8"/><path d="M232.8 238.3 233.0 247.2 230.0 246.7 229.8 238.0Z" fill="#eaeaea"/><path d="M230.7 238.1 230.8 246.8 227.8 246.2 227.7 237.8Z" fill="#ececec"/><path d="M228.5 237.9 228.7 246.4 225.7 245.8 225.5 237.6Z" fill="#eeeeee"/><path d="M226.3 237.6 226.5 246.0 223.5 245.4 223.3 237.3Z" fill="#f0f0f0"/><path d="M224.2 237.4 224.3 245.6 221.3 245.0 221.2 237.1Z" fill="#f2f2f2"/><path d="M222.0 237.2 222.2 245.2 219.2 244.6 219.0 236.9Z" fill="#f4f4f4"/><path d="M219.9 237.0 220.0 244.8 217.0 244.2 216.9 236.6Z" fill="#f3f3f3"/><path d="M217.7 236.7 217.8 244.3 214.8 243.8 214.7 236.4Z" fill="#f2f2f2"/><path d="M215.5 236.5 215.7 243.9 212.7 243.4 212.5 236.2Z" fill="#f1f1f1"/><path d="M213.4 236.3 213.5 243.5 210.5 242.9 210.4 236.0Z" fill="#f0f0f0"/><path d="M211.2 236.0 211.3 243.1 208.3 242.5 208.2 235.7Z" fill="#f0f0f0"/><path d="M209.0 235.8 209.2 242.7 206.2 242.1 206.0 235.5Z" fill="#efefef"/><path d="M206.9 235.6 207.0 242.3 204.0 241.7 203.9 235.3Z" fill="#eeeeee"/><path d="M204.7 235.4 204.8 241.9 201.8 241.3 201.7 235.0Z" fill="#dcdcdc"/><path d="M202.6 235.1 202.7 241.4 200.5 241.0 200.4 234.9Z" fill="#bfbfbf"/><path d="M252.5 250.0 252.5 369.0 249.5 369.0 249.5 249.4Z" fill="#909090"/><path d="M250.3 249.6 250.3 369.0 247.3 369.0 247.3 249.0Z" fill="#b3b3b3"/><path d="M248.2 249.2 248.2 369.0 245.2 369.0 245.2 248.6Z" fill="#b9b9b9"/><path d="M246.0 248.8 246.0 369.0 243.0 369.0 243.0 248.2Z" fill="#c0c0c0"/><path d="M243.8 248.3 243.8 369.0 240.8 369.0 240.8 247.8Z" fill="#cfcfcf"/><path d="M241.7 247.9 241.7 369.0 238.7 369.0 238.7 247.3Z" fill="#dedede"/><path d="M239.5 247.5 239.5 369.0 236.5 369.0 236.5 246.9Z" fill="#e4e4e4"/><path d="M237.3 247.1 237.3 369.0 234.3 369.0 234.3 246.5Z" fill="#e7e7e7"/><path d="M235.2 246.7 235.2 369.0 232.2 369.0 232.2 246.1Z" fill="#e9e9e9"/><path d="M233.0 246.2 233.0 369.0 230.0 369.0 230.0 245.7Z" fill="#ececec"/><path d="M230.8 245.8 230.8 369.0 227.8 369.0 227.8 245.3Z" fill="#eeeeee"/><path d="M228.7 245.4 228.7 369.0 225.7 369.0 225.7 244.8Z" fill="#efefef"/><path d="M226.5 245.0 226.5 369.0 223.5 369.0 223.5 244.4Z" fill="#f1f1f1"/><path d="M224.3 244.6 224.3 369.0 221.3 369.0 221.3 244.0Z" fill="#f2f2f2"/><path d="M222.2 244.2 222.2 369.0 219.2 369.0 219.2 243.6Z" fill="#f4f4f4"/><path d="M220.0 243.8 220.0 369.0 217.0 369.0 217.0 243.2Z" fill="#f3f3f3"/><path d="M217.8 243.3 217.8 369.0 214.8 369.0 214.8 242.8Z" fill="#f2f2f2"/><path d="M215.7 242.9 215.7 369.0 212.7 369.0 212.7 242.3Z" fill="#f1f1f1"/><path d="M213.5 242.5 213.5 369.0 210.5 369.0 210.5 241.9Z" fill="#f1f1f1"/><path d="M211.3 242.1 211.3 369.0 208.3 369.0 208.3 241.5Z" fill="#f0f0f0"/><path d="M209.2 241.7 209.2 369.0 206.2 369.0 206.2 241.1Z" fill="#efefef"/><path d="M207.0 241.2 207.0 369.0 204.0 369.0 204.0 240.7Z" fill="#eeeeee"/><path d="M204.8 240.8 204.8 369.0 201.8 369.0 201.8 240.3Z" fill="#dcdcdc"/><path d="M202.7 240.4 202.7 369.0 200.5 369.0 200.5 240.0Z" fill="#bfbfbf"/></g>
<path d="M50.5,369.0 L50.5,365.4 L50.5,361.9 L50.5,358.3 L50.5,354.7 L50.5,351.1 L50.5,347.6 L50.5,344.0 L50.5,340.4 L50.5,336.9 L50.5,333.3 L50.5,329.7 L50.5,326.2 L50.5,322.6 L50.5,319.0 L50.5,315.4 L50.5,311.9 L50.5,308.3 L50.5,304.7 L50.5,301.2 L50.5,297.6 L50.5,294.0 L50.5,290.5 L50.5,286.9 L50.5,283.3 L50.5,279.8 L50.5,276.2 L50.5,272.6 L50.5,269.0 L50.5,265.5 L50.5,261.9 L50.5,258.3 L50.5,254.8 L50.5,251.2 L50.7,240.8 L51.7,227.0 L53.7,213.4 L56.5,200.2 L60.1,187.4 L64.6,175.2 L69.8,163.6 L75.7,152.8 L82.4,142.8 L89.6,133.8 L97.4,126.5 L105.6,121.9 L114.3,119.4 L123.3,118.5 L132.6,118.3 L142.0,118.5 L151.5,118.6 L158.7,118.5 L166.1,118.3 L174.0,118.5 L182.4,119.4 L191.3,121.9 L200.6,126.5 L209.9,133.8 L218.8,142.8 L226.8,152.8 L233.2,163.6 L238.4,175.2 L242.9,187.4 L246.5,200.2 L249.3,213.4 L251.3,227.0 L252.3,240.8 L252.5,251.2 L252.5,254.8 L252.5,258.3 L252.5,261.9 L252.5,265.5 L252.5,269.0 L252.5,272.6 L252.5,276.2 L252.5,279.8 L252.5,283.3 L252.5,286.9 L252.5,290.5 L252.5,294.0 L252.5,297.6 L252.5,301.2 L252.5,304.7 L252.5,308.3 L252.5,311.9 L252.5,315.4 L252.5,319.0 L252.5,322.6 L252.5,326.2 L252.5,329.7 L252.5,333.3 L252.5,336.9 L252.5,340.4 L252.5,344.0 L252.5,347.6 L252.5,351.1 L252.5,354.7 L252.5,358.3 L252.5,361.9 L252.5,365.4 L252.5,369.0" fill="none" stroke="#444" stroke-width="0.9"/>
<path d="M100.5,369.0 L100.5,365.1 L100.5,361.3 L100.5,357.4 L100.5,353.5 L100.5,349.6 L100.5,345.8 L100.5,341.9 L100.5,338.0 L100.5,334.2 L100.5,330.3 L100.5,326.4 L100.5,322.6 L100.5,318.7 L100.5,314.8 L100.5,310.9 L100.5,307.1 L100.5,303.2 L100.5,299.3 L100.5,295.5 L100.5,291.6 L100.5,287.7 L100.5,283.9 L100.5,280.0 L100.5,276.1 L100.5,272.2 L100.5,268.4 L100.5,264.5 L100.5,260.6 L100.5,256.8 L100.5,252.9 L100.5,249.0 L100.5,245.2 L100.5,241.3 L100.6,235.1 L101.1,227.8 L102.1,220.6 L103.5,213.6 L105.3,206.8 L107.5,200.3 L110.0,194.2 L113.0,188.4 L116.3,183.1 L119.9,178.4 L123.7,174.1 L127.8,170.5 L132.1,167.5 L136.6,165.1 L141.1,163.4 L145.8,162.3 L150.5,162.0 L155.2,162.3 L159.9,163.4 L164.4,165.1 L168.9,167.5 L173.2,170.5 L177.3,174.1 L181.1,178.4 L184.7,183.1 L188.0,188.4 L191.0,194.2 L193.5,200.3 L195.7,206.8 L197.5,213.6 L198.9,220.6 L199.9,227.8 L200.4,235.1 L200.5,241.3 L200.5,245.2 L200.5,249.0 L200.5,252.9 L200.5,256.8 L200.5,260.6 L200.5,264.5 L200.5,268.4 L200.5,272.2 L200.5,276.1 L200.5,280.0 L200.5,283.9 L200.5,287.7 L200.5,291.6 L200.5,295.5 L200.5,299.3 L200.5,303.2 L200.5,307.1 L200.5,310.9 L200.5,314.8 L200.5,318.7 L200.5,322.6 L200.5,326.4 L200.5,330.3 L200.5,334.2 L200.5,338.0 L200.5,341.9 L200.5,345.8 L200.5,349.6 L200.5,353.5 L200.5,357.4 L200.5,361.3 L200.5,365.1 L200.5,369.0" fill="none" stroke="#8a8a8a" stroke-width="0.8"/>
<path d="M75.5,369.0 C75.5,355.8 75.2,312.4 75.5,290.0 C75.8,267.6 76.1,248.5 77.1,234.4 C78.1,220.3 79.7,213.2 81.7,205.6 C83.7,198.0 86.4,194.1 89.2,189.0 C92.0,183.9 96.8,177.6 98.3,175.3" fill="none" stroke="#1a1a1a" stroke-width="2.4" stroke-linecap="round"/>
<path d="M89.2,189.0 C90.7,186.7 94.8,179.4 98.3,175.3 C101.8,171.2 106.0,167.5 110.5,164.7 C115.0,161.9 120.5,160.0 125.6,158.6 C130.7,157.2 136.7,156.8 140.8,156.4 C144.9,156.0 148.5,156.1 150.0,156.0" fill="none" stroke="#1e1e1e" stroke-width="1.7" stroke-linecap="round"/>
<path d="M211.5,177.0 C212.5,181.2 216.0,194.8 217.6,202.0 C219.2,209.2 219.9,212.8 221.0,220.0 C222.1,227.2 223.2,233.3 224.0,245.0 C224.8,256.7 225.4,269.3 225.8,290.0 C226.2,310.7 226.2,355.8 226.3,369.0" fill="none" stroke="#1a1a1a" stroke-width="2.6" stroke-linecap="round"/>
<path d="M187.0,121.0 C188.8,123.3 195.2,130.7 198.0,135.0 C200.8,139.3 202.2,142.0 204.0,147.0 C205.8,152.0 207.2,160.0 208.5,165.0 C209.8,170.0 211.0,175.0 211.5,177.0" fill="none" stroke="#8a8a8a" stroke-width="2.5" stroke-linecap="round" filter="url(#bl05)"/>
</g>
<path d="M4,389 L163,389 L163,779 L10,763 Q6,762.5 6,758 L1.5,393 Q1.5,389 4,389 Z" fill="#2c2b2a"/>
<path d="M1.5,392 L3,392 L7,760 L6,760 Z" fill="#3e3b39"/>
<path d="M20,368 L172,368 L172,389.5 L16.5,389.5 L16.5,371.5 Q16.5,368 20,368 Z" fill="#302f2e"/>
<path d="M20,368.2 L172,368.2 L172,369.6 L17.5,369.6 Q18,368.2 20,368.2 Z" fill="#1c1c1c"/>
<rect x="18" y="370" width="154" height="1.6" fill="#3e3d3c"/>
<rect x="18" y="372.6" width="154" height="0.8" fill="#363534"/>
<rect x="2" y="387.2" width="161" height="1.4" fill="#434140"/>
<path d="M26.5,431.5 L133.5,432 L133.5,741 L30,730 Z" fill="#262524"/>
<path d="M27.8,432 L29.3,432 L31,730 L29.5,730 Z" fill="#6a6867"/>
<path d="M26.5,431.3 L133.5,431.8 L133.5,433 L26.5,432.5 Z" fill="#4a4846"/>
<defs><g id="bp"><rect x="-3.4" y="-6.2" width="8" height="13.2" rx="3.8" fill="#555453"/><rect x="-4.1" y="-6.8" width="7.8" height="13" rx="3.7" fill="#0b0b0b"/><rect x="-3.1" y="-5.8" width="6" height="11.2" rx="2.9" fill="#343332"/><ellipse cx="-0.5" cy="-0.4" rx="1.6" ry="4.2" fill="#7c7c7c"/><ellipse cx="-0.6" cy="-0.7" rx="0.8" ry="3" fill="#d4d4d4"/></g></defs>
<use href="#bp" x="34.5" y="441.3"/>
<use href="#bp" x="44.7" y="441.6"/>
<use href="#bp" x="54.9" y="442.0"/>
<use href="#bp" x="65.1" y="442.3"/>
<use href="#bp" x="75.3" y="442.6"/>
<use href="#bp" x="85.5" y="442.9"/>
<use href="#bp" x="95.7" y="443.3"/>
<use href="#bp" x="105.9" y="443.6"/>
<use href="#bp" x="116.1" y="443.9"/>
<use href="#bp" x="126.3" y="444.3"/>
<use href="#bp" x="34.6" y="456.2"/>
<use href="#bp" x="44.8" y="456.5"/>
<use href="#bp" x="55.0" y="456.8"/>
<use href="#bp" x="65.2" y="457.2"/>
<use href="#bp" x="75.4" y="457.5"/>
<use href="#bp" x="85.6" y="457.8"/>
<use href="#bp" x="95.8" y="458.2"/>
<use href="#bp" x="106.0" y="458.5"/>
<use href="#bp" x="116.2" y="458.8"/>
<use href="#bp" x="126.4" y="459.2"/>
<use href="#bp" x="34.7" y="471.1"/>
<use href="#bp" x="44.9" y="471.4"/>
<use href="#bp" x="55.1" y="471.7"/>
<use href="#bp" x="65.3" y="472.1"/>
<use href="#bp" x="75.5" y="472.4"/>
<use href="#bp" x="85.7" y="472.7"/>
<use href="#bp" x="95.9" y="473.0"/>
<use href="#bp" x="106.1" y="473.4"/>
<use href="#bp" x="116.3" y="473.7"/>
<use href="#bp" x="126.5" y="474.0"/>
<use href="#bp" x="34.8" y="485.9"/>
<use href="#bp" x="45.0" y="486.3"/>
<use href="#bp" x="55.2" y="486.6"/>
<use href="#bp" x="65.4" y="486.9"/>
<use href="#bp" x="75.6" y="487.3"/>
<use href="#bp" x="85.8" y="487.6"/>
<use href="#bp" x="96.0" y="487.9"/>
<use href="#bp" x="106.2" y="488.2"/>
<use href="#bp" x="116.4" y="488.6"/>
<use href="#bp" x="126.6" y="488.9"/>
<use href="#bp" x="34.9" y="500.8"/>
<use href="#bp" x="45.1" y="501.1"/>
<use href="#bp" x="55.3" y="501.5"/>
<use href="#bp" x="65.5" y="501.8"/>
<use href="#bp" x="75.7" y="502.1"/>
<use href="#bp" x="85.9" y="502.5"/>
<use href="#bp" x="96.1" y="502.8"/>
<use href="#bp" x="106.3" y="503.1"/>
<use href="#bp" x="116.5" y="503.5"/>
<use href="#bp" x="126.7" y="503.8"/>
<use href="#bp" x="35.0" y="515.7"/>
<use href="#bp" x="45.2" y="516.0"/>
<use href="#bp" x="55.4" y="516.4"/>
<use href="#bp" x="65.6" y="516.7"/>
<use href="#bp" x="75.8" y="517.0"/>
<use href="#bp" x="86.0" y="517.4"/>
<use href="#bp" x="96.2" y="517.7"/>
<use href="#bp" x="106.4" y="518.0"/>
<use href="#bp" x="116.6" y="518.3"/>
<use href="#bp" x="126.8" y="518.7"/>
<use href="#bp" x="35.1" y="530.6"/>
<use href="#bp" x="45.3" y="530.9"/>
<use href="#bp" x="55.5" y="531.2"/>
<use href="#bp" x="65.7" y="531.6"/>
<use href="#bp" x="75.9" y="531.9"/>
<use href="#bp" x="86.1" y="532.2"/>
<use href="#bp" x="96.3" y="532.6"/>
<use href="#bp" x="106.5" y="532.9"/>
<use href="#bp" x="116.7" y="533.2"/>
<use href="#bp" x="126.9" y="533.6"/>
<use href="#bp" x="35.2" y="545.5"/>
<use href="#bp" x="45.4" y="545.8"/>
<use href="#bp" x="55.6" y="546.1"/>
<use href="#bp" x="65.8" y="546.5"/>
<use href="#bp" x="76.0" y="546.8"/>
<use href="#bp" x="86.2" y="547.1"/>
<use href="#bp" x="96.4" y="547.4"/>
<use href="#bp" x="106.6" y="547.8"/>
<use href="#bp" x="116.8" y="548.1"/>
<use href="#bp" x="127.0" y="548.4"/>
<use href="#bp" x="35.3" y="560.3"/>
<use href="#bp" x="45.5" y="560.7"/>
<use href="#bp" x="55.7" y="561.0"/>
<use href="#bp" x="65.9" y="561.3"/>
<use href="#bp" x="76.1" y="561.7"/>
<use href="#bp" x="86.3" y="562.0"/>
<use href="#bp" x="96.5" y="562.3"/>
<use href="#bp" x="106.7" y="562.6"/>
<use href="#bp" x="116.9" y="563.0"/>
<use href="#bp" x="127.1" y="563.3"/>
<use href="#bp" x="35.4" y="575.2"/>
<use href="#bp" x="45.6" y="575.6"/>
<use href="#bp" x="55.8" y="575.9"/>
<use href="#bp" x="66.0" y="576.2"/>
<use href="#bp" x="76.2" y="576.5"/>
<use href="#bp" x="86.4" y="576.9"/>
<use href="#bp" x="96.6" y="577.2"/>
<use href="#bp" x="106.8" y="577.5"/>
<use href="#bp" x="117.0" y="577.9"/>
<use href="#bp" x="127.2" y="578.2"/>
<use href="#bp" x="35.5" y="590.1"/>
<use href="#bp" x="45.7" y="590.4"/>
<use href="#bp" x="55.9" y="590.8"/>
<use href="#bp" x="66.1" y="591.1"/>
<use href="#bp" x="76.3" y="591.4"/>
<use href="#bp" x="86.5" y="591.8"/>
<use href="#bp" x="96.7" y="592.1"/>
<use href="#bp" x="106.9" y="592.4"/>
<use href="#bp" x="117.1" y="592.7"/>
<use href="#bp" x="127.3" y="593.1"/>
<use href="#bp" x="35.6" y="605.0"/>
<use href="#bp" x="45.8" y="605.3"/>
<use href="#bp" x="56.0" y="605.6"/>
<use href="#bp" x="66.2" y="606.0"/>
<use href="#bp" x="76.4" y="606.3"/>
<use href="#bp" x="86.6" y="606.6"/>
<use href="#bp" x="96.8" y="607.0"/>
<use href="#bp" x="107.0" y="607.3"/>
<use href="#bp" x="117.2" y="607.6"/>
<use href="#bp" x="127.4" y="608.0"/>
<use href="#bp" x="35.7" y="619.9"/>
<use href="#bp" x="45.9" y="620.2"/>
<use href="#bp" x="56.1" y="620.5"/>
<use href="#bp" x="66.3" y="620.9"/>
<use href="#bp" x="76.5" y="621.2"/>
<use href="#bp" x="86.7" y="621.5"/>
<use href="#bp" x="96.9" y="621.8"/>
<use href="#bp" x="107.1" y="622.2"/>
<use href="#bp" x="117.3" y="622.5"/>
<use href="#bp" x="127.5" y="622.8"/>
<use href="#bp" x="35.8" y="634.7"/>
<use href="#bp" x="46.0" y="635.1"/>
<use href="#bp" x="56.2" y="635.4"/>
<use href="#bp" x="66.4" y="635.7"/>
<use href="#bp" x="76.6" y="636.1"/>
<use href="#bp" x="86.8" y="636.4"/>
<use href="#bp" x="97.0" y="636.7"/>
<use href="#bp" x="107.2" y="637.0"/>
<use href="#bp" x="117.4" y="637.4"/>
<use href="#bp" x="127.6" y="637.7"/>
<use href="#bp" x="35.9" y="649.6"/>
<use href="#bp" x="46.1" y="650.0"/>
<use href="#bp" x="56.3" y="650.3"/>
<use href="#bp" x="66.5" y="650.6"/>
<use href="#bp" x="76.7" y="650.9"/>
<use href="#bp" x="86.9" y="651.3"/>
<use href="#bp" x="97.1" y="651.6"/>
<use href="#bp" x="107.3" y="651.9"/>
<use href="#bp" x="117.5" y="652.3"/>
<use href="#bp" x="127.7" y="652.6"/>
<use href="#bp" x="36.0" y="664.5"/>
<use href="#bp" x="46.2" y="664.8"/>
<use href="#bp" x="56.4" y="665.2"/>
<use href="#bp" x="66.6" y="665.5"/>
<use href="#bp" x="76.8" y="665.8"/>
<use href="#bp" x="87.0" y="666.1"/>
<use href="#bp" x="97.2" y="666.5"/>
<use href="#bp" x="107.4" y="666.8"/>
<use href="#bp" x="117.6" y="667.1"/>
<use href="#bp" x="127.8" y="667.5"/>
<use href="#bp" x="36.1" y="679.4"/>
<use href="#bp" x="46.3" y="679.7"/>
<use href="#bp" x="56.5" y="680.0"/>
<use href="#bp" x="66.7" y="680.4"/>
<use href="#bp" x="76.9" y="680.7"/>
<use href="#bp" x="87.1" y="681.0"/>
<use href="#bp" x="97.3" y="681.4"/>
<use href="#bp" x="107.5" y="681.7"/>
<use href="#bp" x="117.7" y="682.0"/>
<use href="#bp" x="127.9" y="682.4"/>
<use href="#bp" x="36.2" y="694.3"/>
<use href="#bp" x="46.4" y="694.6"/>
<use href="#bp" x="56.6" y="694.9"/>
<use href="#bp" x="66.8" y="695.2"/>
<use href="#bp" x="77.0" y="695.6"/>
<use href="#bp" x="87.2" y="695.9"/>
<use href="#bp" x="97.4" y="696.2"/>
<use href="#bp" x="107.6" y="696.6"/>
<use href="#bp" x="117.8" y="696.9"/>
<use href="#bp" x="128.0" y="697.2"/>
<use href="#bp" x="36.3" y="709.1"/>
<use href="#bp" x="46.5" y="709.5"/>
<use href="#bp" x="56.7" y="709.8"/>
<use href="#bp" x="66.9" y="710.1"/>
<use href="#bp" x="77.1" y="710.5"/>
<use href="#bp" x="87.3" y="710.8"/>
<use href="#bp" x="97.5" y="711.1"/>
<use href="#bp" x="107.7" y="711.5"/>
<use href="#bp" x="117.9" y="711.8"/>
<use href="#bp" x="128.1" y="712.1"/>
<use href="#bp" x="36.4" y="724.0"/>
<use href="#bp" x="46.6" y="724.4"/>
<use href="#bp" x="56.8" y="724.7"/>
<use href="#bp" x="67.0" y="725.0"/>
<use href="#bp" x="77.2" y="725.3"/>
<use href="#bp" x="87.4" y="725.7"/>
<use href="#bp" x="97.6" y="726.0"/>
<use href="#bp" x="107.8" y="726.3"/>
<use href="#bp" x="118.0" y="726.7"/>
<use href="#bp" x="128.2" y="727.0"/>
<path d="M283,387 L292,387 Q296,387 296,391 L296,775 Q296,779 292,779 L283,779 Z" fill="#161616"/>
<rect x="283.5" y="388" width="1.2" height="390" fill="#3a3a3a"/>
<path d="M161,389 L284,389 L284,779 L161,779 Z" fill="url(#cyl2)"/>
<linearGradient id="fadev" x1="0" x2="0" y1="0" y2="1"><stop offset="0" stop-color="#fff"/><stop offset="0.7" stop-color="#fff"/><stop offset="1" stop-color="#000"/></linearGradient><mask id="fm"><rect x="160" y="389" width="126" height="100" fill="url(#fadev)"/></mask>
<path d="M161,389 L284,389 L284,489 L161,489 Z" fill="url(#cyl)" mask="url(#fm)"/>
<path d="M171,369 L279,369 Q283,369 283,373 L283,390 L171,390 Z" fill="url(#capg)"/>
<ellipse cx="246" cy="379" rx="12" ry="6" fill="#555" opacity="0.5" filter="url(#bl2)"/>
<path d="M278.8,447 L286,461 L286,447 Z" fill="#4e4e4e"/>
<g transform="translate(0,0)">
<clipPath id="dc0"><path d="M142.5,468.8 Q200,472.5 250,471 Q285,469.5 304,467.5 L306.6,468.5 L306.6,503 L304,503.2 Q285,506.5 250,507.5 Q200,507.5 142.5,503.6 Z"/></clipPath>
<g clip-path="url(#dc0)">
<rect x="142" y="460" width="34" height="55" fill="url(#s1)"/>
<rect x="175" y="460" width="52.5" height="55" fill="url(#s2)"/>
<rect x="227" y="460" width="49.5" height="55" fill="url(#s3)"/>
<rect x="276" y="460" width="31" height="55" fill="url(#s4)"/>
<rect x="174.6" y="460" width="1.2" height="55" fill="#5a5a5a"/>
<rect x="226.6" y="460" width="0.8" height="55" fill="#8a8a8a"/>
<path d="M142.5,502.5 Q200,506.5 250,506.5 Q285,505.5 306.6,502 L306.6,512 L142,512 Z" fill="#6a6a6a" opacity="0.7"/>
</g>
<path d="M151.6,477.3 L161.4,477.3 Q158.3,487 155.5,501.6" fill="none" stroke="#111" stroke-width="3.9" stroke-linejoin="round"/>
<ellipse cx="195.3" cy="482.9" rx="6.9" ry="4.4" fill="none" stroke="#111" stroke-width="4"/>
<ellipse cx="195" cy="495" rx="8.3" ry="5" fill="none" stroke="#111" stroke-width="4.2"/>
<ellipse cx="243.6" cy="483.9" rx="9.6" ry="5.7" fill="none" stroke="#111" stroke-width="4.6"/>
<path d="M253.4,485.5 Q255,499.4 244,499.4 Q238,499.4 233.4,497.2" fill="none" stroke="#111" stroke-width="4.1" stroke-linecap="round"/>
<ellipse cx="288.2" cy="486.5" rx="5.8" ry="10.8" fill="none" stroke="#111" stroke-width="4"/>
</g>
<g transform="translate(0.7,67.6)">
<clipPath id="dc1"><path d="M142.5,468.8 Q200,472.5 250,471 Q285,469.5 304,467.5 L306.6,468.5 L306.6,503 L304,503.2 Q285,506.5 250,507.5 Q200,507.5 142.5,503.6 Z"/></clipPath>
<g clip-path="url(#dc1)">
<rect x="142" y="460" width="34" height="55" fill="url(#s1)"/>
<rect x="175" y="460" width="52.5" height="55" fill="url(#s2)"/>
<rect x="227" y="460" width="49.5" height="55" fill="url(#s3)"/>
<rect x="276" y="460" width="31" height="55" fill="url(#s4)"/>
<rect x="174.6" y="460" width="1.2" height="55" fill="#5a5a5a"/>
<rect x="226.6" y="460" width="0.8" height="55" fill="#8a8a8a"/>
<path d="M142.5,502.5 Q200,506.5 250,506.5 Q285,505.5 306.6,502 L306.6,512 L142,512 Z" fill="#6a6a6a" opacity="0.7"/>
</g>
<path d="M151.6,477.3 L161.4,477.3 Q158.3,487 155.5,501.6" fill="none" stroke="#111" stroke-width="3.9" stroke-linejoin="round"/>
<ellipse cx="195.3" cy="482.9" rx="6.9" ry="4.4" fill="none" stroke="#111" stroke-width="4"/>
<ellipse cx="195" cy="495" rx="8.3" ry="5" fill="none" stroke="#111" stroke-width="4.2"/>
<ellipse cx="243.6" cy="483.9" rx="9.6" ry="5.7" fill="none" stroke="#111" stroke-width="4.6"/>
<path d="M253.4,485.5 Q255,499.4 244,499.4 Q238,499.4 233.4,497.2" fill="none" stroke="#111" stroke-width="4.1" stroke-linecap="round"/>
<ellipse cx="288.2" cy="486.5" rx="5.8" ry="10.8" fill="none" stroke="#111" stroke-width="4"/>
</g>
<g transform="translate(1.4,138.0)">
<clipPath id="dc2"><path d="M142.5,468.8 Q200,472.5 250,471 Q285,469.5 304,467.5 L306.6,468.5 L306.6,503 L304,503.2 Q285,506.5 250,507.5 Q200,507.5 142.5,503.6 Z"/></clipPath>
<g clip-path="url(#dc2)">
<rect x="142" y="460" width="34" height="55" fill="url(#s1)"/>
<rect x="175" y="460" width="52.5" height="55" fill="url(#s2)"/>
<rect x="227" y="460" width="49.5" height="55" fill="url(#s3)"/>
<rect x="276" y="460" width="31" height="55" fill="url(#s4)"/>
<rect x="174.6" y="460" width="1.2" height="55" fill="#5a5a5a"/>
<rect x="226.6" y="460" width="0.8" height="55" fill="#8a8a8a"/>
<path d="M142.5,502.5 Q200,506.5 250,506.5 Q285,505.5 306.6,502 L306.6,512 L142,512 Z" fill="#6a6a6a" opacity="0.7"/>
</g>
<path d="M151.6,477.3 L161.4,477.3 Q158.3,487 155.5,501.6" fill="none" stroke="#111" stroke-width="3.9" stroke-linejoin="round"/>
<ellipse cx="195.3" cy="482.9" rx="6.9" ry="4.4" fill="none" stroke="#111" stroke-width="4"/>
<ellipse cx="195" cy="495" rx="8.3" ry="5" fill="none" stroke="#111" stroke-width="4.2"/>
<ellipse cx="243.6" cy="483.9" rx="9.6" ry="5.7" fill="none" stroke="#111" stroke-width="4.6"/>
<path d="M253.4,485.5 Q255,499.4 244,499.4 Q238,499.4 233.4,497.2" fill="none" stroke="#111" stroke-width="4.1" stroke-linecap="round"/>
<ellipse cx="288.2" cy="486.5" rx="5.8" ry="10.8" fill="none" stroke="#111" stroke-width="4"/>
</g>
<g transform="translate(2.1,205.2)">
<clipPath id="dc3"><path d="M142.5,468.8 Q200,472.5 250,471 Q285,469.5 304,467.5 L306.6,468.5 L306.6,503 L304,503.2 Q285,506.5 250,507.5 Q200,507.5 142.5,503.6 Z"/></clipPath>
<g clip-path="url(#dc3)">
<rect x="142" y="460" width="34" height="55" fill="url(#s1)"/>
<rect x="175" y="460" width="52.5" height="55" fill="url(#s2)"/>
<rect x="227" y="460" width="49.5" height="55" fill="url(#s3)"/>
<rect x="276" y="460" width="31" height="55" fill="url(#s4)"/>
<rect x="174.6" y="460" width="1.2" height="55" fill="#5a5a5a"/>
<rect x="226.6" y="460" width="0.8" height="55" fill="#8a8a8a"/>
<path d="M142.5,502.5 Q200,506.5 250,506.5 Q285,505.5 306.6,502 L306.6,512 L142,512 Z" fill="#6a6a6a" opacity="0.7"/>
</g>
<path d="M151.6,477.3 L161.4,477.3 Q158.3,487 155.5,501.6" fill="none" stroke="#111" stroke-width="3.9" stroke-linejoin="round"/>
<ellipse cx="195.3" cy="482.9" rx="6.9" ry="4.4" fill="none" stroke="#111" stroke-width="4"/>
<ellipse cx="195" cy="495" rx="8.3" ry="5" fill="none" stroke="#111" stroke-width="4.2"/>
<ellipse cx="243.6" cy="483.9" rx="9.6" ry="5.7" fill="none" stroke="#111" stroke-width="4.6"/>
<path d="M253.4,485.5 Q255,499.4 244,499.4 Q238,499.4 233.4,497.2" fill="none" stroke="#111" stroke-width="4.1" stroke-linecap="round"/>
<ellipse cx="288.2" cy="486.5" rx="5.8" ry="10.8" fill="none" stroke="#111" stroke-width="4"/>
</g>
<line x1="234.5" y1="254.5" x2="415" y2="254.5" stroke="#268184" stroke-width="2.1"/>
<circle cx="234.5" cy="253.5" r="6.7" fill="#139e9a"/>
<line x1="297" y1="452" x2="415" y2="452" stroke="#268184" stroke-width="2.1"/>
<circle cx="297" cy="452" r="6.7" fill="#139e9a"/>
<line x1="315.5" y1="489.5" x2="364.8" y2="489.5" stroke="#1d9092" stroke-width="2.5"/>
<circle cx="315.5" cy="489.5" r="6.7" fill="#139e9a"/>
<line x1="315.5" y1="557" x2="364.8" y2="557" stroke="#1d9092" stroke-width="2.5"/>
<circle cx="315.5" cy="557" r="6.7" fill="#139e9a"/>
<line x1="315.5" y1="623.5" x2="364.8" y2="623.5" stroke="#1d9092" stroke-width="2.5"/>
<circle cx="315.5" cy="623.5" r="6.7" fill="#139e9a"/>
<line x1="315.5" y1="689.7" x2="364.8" y2="689.7" stroke="#1d9092" stroke-width="2.5"/>
<circle cx="315.5" cy="689.7" r="6.7" fill="#139e9a"/>
<line x1="363.6" y1="488.3" x2="363.6" y2="691" stroke="#1d9092" stroke-width="2.5"/>
<line x1="363.6" y1="582.4" x2="415" y2="582.4" stroke="#268184" stroke-width="2.1"/>
<line x1="264" y1="733" x2="415" y2="733" stroke="#268184" stroke-width="2.1"/>
<circle cx="264" cy="732.5" r="6.7" fill="#139e9a"/>
<g opacity="0.999">
<rect x="413.6" y="216.2" width="244.1" height="68.6" rx="7" fill="#139e9a"/>
<text x="426.2" y="247.4" font-family="Liberation Sans" font-size="29.7" fill="#e6fffc" stroke="#e6fffc" stroke-width="0.4" textLength="218.0" lengthAdjust="spacingAndGlyphs">Strong Shackle</text>
<rect x="427" y="251.9" width="217" height="2.8" fill="#e6fffc"/>
<text x="423.0" y="272.8" font-family="Liberation Sans" font-size="17" font-style="italic" fill="#e6fffc" stroke="#e6fffc" stroke-width="0.25" textLength="223.3" lengthAdjust="spacingAndGlyphs">Cut-resistant hardened steel</text>
<rect x="413.3" y="415" width="244.3" height="68.3" rx="7" fill="#139e9a"/>
<text x="464.2" y="445.3" font-family="Liberation Sans" font-size="29.7" fill="#e6fffc" stroke="#e6fffc" stroke-width="0.4" textLength="145.2" lengthAdjust="spacingAndGlyphs">Code Line</text>
<rect x="454.5" y="450.90000000000003" width="164.5" height="2.8" fill="#e6fffc"/>
<text x="453.0" y="471.7" font-family="Liberation Sans" font-size="17" font-style="italic" fill="#e6fffc" stroke="#e6fffc" stroke-width="0.25" textLength="162.3" lengthAdjust="spacingAndGlyphs">easy to align and set</text>
<rect x="413.4" y="541" width="244.1" height="92.5" rx="7" fill="#139e9a"/>
<text x="493.9" y="574.5" font-family="Liberation Sans" font-size="29.7" fill="#e6fffc" stroke="#e6fffc" stroke-width="0.4" textLength="69.6" lengthAdjust="spacingAndGlyphs">Dials</text>
<rect x="429" y="579.3000000000001" width="221" height="2.8" fill="#e6fffc"/>
<text x="435.3" y="600.5" font-family="Liberation Sans" font-size="17" font-style="italic" fill="#e6fffc" stroke="#e6fffc" stroke-width="0.25" textLength="208.6" lengthAdjust="spacingAndGlyphs">with damper device inside,</text>
<text x="455.4" y="621.3" font-family="Liberation Sans" font-size="17" font-style="italic" fill="#e6fffc" stroke="#e6fffc" stroke-width="0.25" textLength="163.0" lengthAdjust="spacingAndGlyphs">CLICK with accuracy</text>
<rect x="412.6" y="696" width="244.1" height="67.2" rx="7" fill="#139e9a"/>
<text x="447.0" y="726.4" font-family="Liberation Sans" font-size="29.7" fill="#e6fffc" stroke="#e6fffc" stroke-width="0.4" textLength="172.6" lengthAdjust="spacingAndGlyphs">Sturdy Body</text>
<rect x="437.5" y="731.6" width="192.5" height="2.8" fill="#e6fffc"/>
<text x="447.0" y="752.4" font-family="Liberation Sans" font-size="17" font-style="italic" fill="#e6fffc" stroke="#e6fffc" stroke-width="0.25" textLength="179.0" lengthAdjust="spacingAndGlyphs">high strength zinc alloy</text>
</g>
</svg></body></html>
